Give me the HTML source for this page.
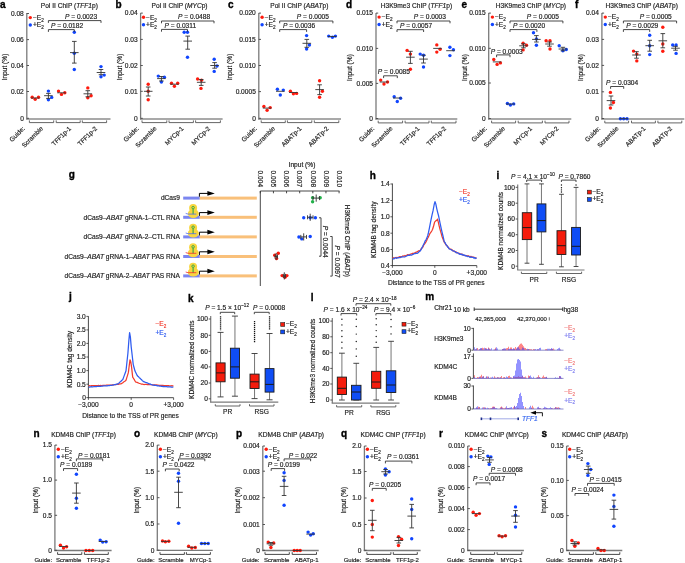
<!DOCTYPE html>
<html><head><meta charset="utf-8"><style>
html,body{margin:0;padding:0;background:#fff;}
svg{display:block;font-family:"Liberation Sans", sans-serif;will-change:transform;}
</style></head><body>
<svg width="685" height="563" viewBox="0 0 685 563">
<rect width="685" height="563" fill="#fff"/>
<line x1="26.80" y1="13.10" x2="26.80" y2="119.50" stroke="#7a7a7a" stroke-width="1.30"/>
<line x1="26.20" y1="119.00" x2="110.50" y2="119.00" stroke="#8c8c8c" stroke-width="1.50"/>
<line x1="26.80" y1="13.50" x2="29.00" y2="13.50" stroke="#444" stroke-width="0.90"/>
<text x="23.80" y="15.80" font-size="6.60" text-anchor="end" fill="#1e1e1e" stroke="#1e1e1e" stroke-width="0.18">0.08</text>
<line x1="26.80" y1="39.60" x2="29.00" y2="39.60" stroke="#444" stroke-width="0.90"/>
<text x="23.80" y="41.90" font-size="6.60" text-anchor="end" fill="#1e1e1e" stroke="#1e1e1e" stroke-width="0.18">0.06</text>
<line x1="26.80" y1="65.50" x2="29.00" y2="65.50" stroke="#444" stroke-width="0.90"/>
<text x="23.80" y="67.80" font-size="6.60" text-anchor="end" fill="#1e1e1e" stroke="#1e1e1e" stroke-width="0.18">0.04</text>
<line x1="26.80" y1="91.50" x2="29.00" y2="91.50" stroke="#444" stroke-width="0.90"/>
<text x="23.80" y="93.80" font-size="6.60" text-anchor="end" fill="#1e1e1e" stroke="#1e1e1e" stroke-width="0.18">0.02</text>
<line x1="26.80" y1="118.30" x2="29.00" y2="118.30" stroke="#444" stroke-width="0.90"/>
<text x="23.80" y="120.60" font-size="6.60" text-anchor="end" fill="#1e1e1e" stroke="#1e1e1e" stroke-width="0.18">0</text>
<text x="40.80" y="8.40" font-size="6.60" text-anchor="start" fill="#1e1e1e" stroke="#1e1e1e" stroke-width="0.18">Pol II ChIP (<tspan font-style="italic">TFF1</tspan>p)</text>
<text x="0.00" y="7.60" font-size="10.00" text-anchor="start" fill="#000" stroke="#000" stroke-width="0.35" font-weight="bold">a</text>
<circle cx="30.30" cy="17.60" r="1.70" fill="#ff1a0d"/>
<circle cx="30.30" cy="25.00" r="1.70" fill="#1045ff"/>
<text x="32.90" y="19.90" font-size="6.60" text-anchor="start" fill="#1e1e1e" stroke="#1e1e1e" stroke-width="0.18">−E<tspan dy="1.98" font-size="4.62">2</tspan><tspan dy="-1.98"></tspan></text>
<text x="32.90" y="27.30" font-size="6.60" text-anchor="start" fill="#1e1e1e" stroke="#1e1e1e" stroke-width="0.18">+E<tspan dy="1.98" font-size="4.62">2</tspan><tspan dy="-1.98"></tspan></text>
<polyline points="29.40,120.40 29.40,122.60 53.70,122.60 53.70,120.40" stroke="#555" stroke-width="0.90" fill="none"/>
<polyline points="56.20,120.40 56.20,122.60 80.20,122.60 80.20,120.40" stroke="#555" stroke-width="0.90" fill="none"/>
<polyline points="82.30,120.40 82.30,122.60 106.60,122.60 106.60,120.40" stroke="#555" stroke-width="0.90" fill="none"/>
<circle cx="32.20" cy="97.30" r="1.70" fill="#ff1a0d"/>
<circle cx="35.20" cy="99.30" r="1.70" fill="#ff1a0d"/>
<circle cx="38.50" cy="97.30" r="1.70" fill="#ff1a0d"/>
<line x1="30.90" y1="98.00" x2="39.50" y2="98.00" stroke="#333" stroke-width="0.90"/>
<circle cx="48.40" cy="91.10" r="1.70" fill="#1045ff"/>
<circle cx="48.40" cy="99.70" r="1.70" fill="#1045ff"/>
<circle cx="51.70" cy="97.40" r="1.70" fill="#1045ff"/>
<line x1="48.40" y1="93.40" x2="48.40" y2="98.40" stroke="#333" stroke-width="0.90"/>
<line x1="46.10" y1="93.40" x2="50.70" y2="93.40" stroke="#333" stroke-width="0.90"/>
<line x1="46.10" y1="98.40" x2="50.70" y2="98.40" stroke="#333" stroke-width="0.90"/>
<line x1="44.10" y1="95.70" x2="52.70" y2="95.70" stroke="#333" stroke-width="0.90"/>
<circle cx="58.50" cy="91.10" r="1.70" fill="#ff1a0d"/>
<circle cx="61.50" cy="94.40" r="1.70" fill="#ff1a0d"/>
<circle cx="64.80" cy="92.80" r="1.70" fill="#ff1a0d"/>
<line x1="57.20" y1="92.80" x2="65.80" y2="92.80" stroke="#333" stroke-width="0.90"/>
<circle cx="74.30" cy="32.20" r="1.70" fill="#1045ff"/>
<circle cx="74.30" cy="53.20" r="1.70" fill="#1045ff"/>
<circle cx="74.30" cy="69.50" r="1.70" fill="#1045ff"/>
<line x1="74.30" y1="41.40" x2="74.30" y2="63.10" stroke="#333" stroke-width="0.90"/>
<line x1="72.00" y1="41.40" x2="76.60" y2="41.40" stroke="#333" stroke-width="0.90"/>
<line x1="72.00" y1="63.10" x2="76.60" y2="63.10" stroke="#333" stroke-width="0.90"/>
<line x1="70.00" y1="52.60" x2="78.60" y2="52.60" stroke="#333" stroke-width="0.90"/>
<circle cx="87.80" cy="87.90" r="1.70" fill="#ff1a0d"/>
<circle cx="87.80" cy="97.70" r="1.70" fill="#ff1a0d"/>
<circle cx="91.10" cy="95.70" r="1.70" fill="#ff1a0d"/>
<line x1="87.80" y1="90.70" x2="87.80" y2="96.80" stroke="#333" stroke-width="0.90"/>
<line x1="85.50" y1="90.70" x2="90.10" y2="90.70" stroke="#333" stroke-width="0.90"/>
<line x1="85.50" y1="96.80" x2="90.10" y2="96.80" stroke="#333" stroke-width="0.90"/>
<line x1="83.50" y1="93.80" x2="92.10" y2="93.80" stroke="#333" stroke-width="0.90"/>
<circle cx="101.00" cy="66.60" r="1.70" fill="#1045ff"/>
<circle cx="101.00" cy="76.70" r="1.70" fill="#1045ff"/>
<circle cx="104.20" cy="75.10" r="1.70" fill="#1045ff"/>
<line x1="101.00" y1="69.50" x2="101.00" y2="74.70" stroke="#333" stroke-width="0.90"/>
<line x1="98.70" y1="69.50" x2="103.30" y2="69.50" stroke="#333" stroke-width="0.90"/>
<line x1="98.70" y1="74.70" x2="103.30" y2="74.70" stroke="#333" stroke-width="0.90"/>
<line x1="96.70" y1="72.50" x2="105.30" y2="72.50" stroke="#333" stroke-width="0.90"/>
<polyline points="48.40,22.90 48.40,20.60 101.00,20.60 101.00,22.90" stroke="#333" stroke-width="0.90" fill="none"/>
<text x="65.00" y="19.30" font-size="6.60" text-anchor="start" fill="#1e1e1e" stroke="#1e1e1e" stroke-width="0.18"><tspan font-style="italic">P</tspan> = 0.0023</text>
<polyline points="48.40,31.90 48.40,29.60 74.30,29.60 74.30,31.90" stroke="#333" stroke-width="0.90" fill="none"/>
<text x="51.00" y="27.90" font-size="6.60" text-anchor="start" fill="#1e1e1e" stroke="#1e1e1e" stroke-width="0.18"><tspan font-style="italic">P</tspan> = 0.0182</text>
<text x="25.20" y="129.00" font-size="6.35" text-anchor="end" fill="#1e1e1e" stroke="#1e1e1e" stroke-width="0.18" transform="rotate(-45 25.20 129.00)">Guide:</text>
<text x="43.50" y="129.00" font-size="6.35" text-anchor="end" fill="#1e1e1e" stroke="#1e1e1e" stroke-width="0.18" transform="rotate(-45 43.50 129.00)">Scramble</text>
<text x="71.50" y="129.00" font-size="6.35" text-anchor="end" fill="#1e1e1e" stroke="#1e1e1e" stroke-width="0.18" transform="rotate(-45 71.50 129.00)">TFF1p-1</text>
<text x="97.50" y="129.00" font-size="6.35" text-anchor="end" fill="#1e1e1e" stroke="#1e1e1e" stroke-width="0.18" transform="rotate(-45 97.50 129.00)">TFF1p-2</text>
<text x="7.30" y="67.00" font-size="6.60" text-anchor="middle" fill="#1e1e1e" stroke="#1e1e1e" stroke-width="0.18" transform="rotate(-90 7.30 67.00)">Input (%)</text>
<line x1="140.60" y1="13.10" x2="140.60" y2="119.50" stroke="#7a7a7a" stroke-width="1.30"/>
<line x1="140.00" y1="119.00" x2="222.60" y2="119.00" stroke="#8c8c8c" stroke-width="1.50"/>
<line x1="140.60" y1="13.10" x2="142.80" y2="13.10" stroke="#444" stroke-width="0.90"/>
<text x="137.60" y="15.40" font-size="6.60" text-anchor="end" fill="#1e1e1e" stroke="#1e1e1e" stroke-width="0.18">0.04</text>
<line x1="140.60" y1="39.40" x2="142.80" y2="39.40" stroke="#444" stroke-width="0.90"/>
<text x="137.60" y="41.70" font-size="6.60" text-anchor="end" fill="#1e1e1e" stroke="#1e1e1e" stroke-width="0.18">0.03</text>
<line x1="140.60" y1="65.50" x2="142.80" y2="65.50" stroke="#444" stroke-width="0.90"/>
<text x="137.60" y="67.80" font-size="6.60" text-anchor="end" fill="#1e1e1e" stroke="#1e1e1e" stroke-width="0.18">0.02</text>
<line x1="140.60" y1="91.30" x2="142.80" y2="91.30" stroke="#444" stroke-width="0.90"/>
<text x="137.60" y="93.60" font-size="6.60" text-anchor="end" fill="#1e1e1e" stroke="#1e1e1e" stroke-width="0.18">0.01</text>
<line x1="140.60" y1="118.30" x2="142.80" y2="118.30" stroke="#444" stroke-width="0.90"/>
<text x="137.60" y="120.60" font-size="6.60" text-anchor="end" fill="#1e1e1e" stroke="#1e1e1e" stroke-width="0.18">0</text>
<text x="151.60" y="8.40" font-size="6.60" text-anchor="start" fill="#1e1e1e" stroke="#1e1e1e" stroke-width="0.18">Pol II ChIP (<tspan font-style="italic">MYC</tspan>p)</text>
<text x="115.50" y="7.60" font-size="10.00" text-anchor="start" fill="#000" stroke="#000" stroke-width="0.35" font-weight="bold">b</text>
<circle cx="143.50" cy="17.30" r="1.70" fill="#ff1a0d"/>
<circle cx="143.50" cy="24.70" r="1.70" fill="#1045ff"/>
<text x="146.10" y="19.60" font-size="6.60" text-anchor="start" fill="#1e1e1e" stroke="#1e1e1e" stroke-width="0.18">−E<tspan dy="1.98" font-size="4.62">2</tspan><tspan dy="-1.98"></tspan></text>
<text x="146.10" y="27.00" font-size="6.60" text-anchor="start" fill="#1e1e1e" stroke="#1e1e1e" stroke-width="0.18">+E<tspan dy="1.98" font-size="4.62">2</tspan><tspan dy="-1.98"></tspan></text>
<polyline points="142.00,120.40 142.00,122.60 166.80,122.60 166.80,120.40" stroke="#555" stroke-width="0.90" fill="none"/>
<polyline points="169.00,120.40 169.00,122.60 193.40,122.60 193.40,120.40" stroke="#555" stroke-width="0.90" fill="none"/>
<polyline points="195.60,120.40 195.60,122.60 220.40,122.60 220.40,120.40" stroke="#555" stroke-width="0.90" fill="none"/>
<circle cx="148.20" cy="84.20" r="1.70" fill="#ff1a0d"/>
<circle cx="148.20" cy="91.30" r="1.70" fill="#ff1a0d"/>
<circle cx="148.20" cy="99.70" r="1.70" fill="#ff1a0d"/>
<line x1="148.20" y1="87.00" x2="148.20" y2="96.00" stroke="#333" stroke-width="0.90"/>
<line x1="145.90" y1="87.00" x2="150.50" y2="87.00" stroke="#333" stroke-width="0.90"/>
<line x1="145.90" y1="96.00" x2="150.50" y2="96.00" stroke="#333" stroke-width="0.90"/>
<line x1="143.90" y1="91.30" x2="152.50" y2="91.30" stroke="#333" stroke-width="0.90"/>
<circle cx="158.30" cy="76.10" r="1.70" fill="#1045ff"/>
<circle cx="161.40" cy="82.00" r="1.70" fill="#1045ff"/>
<circle cx="164.40" cy="77.30" r="1.70" fill="#1045ff"/>
<line x1="161.40" y1="76.50" x2="161.40" y2="81.00" stroke="#333" stroke-width="0.90"/>
<line x1="159.10" y1="76.50" x2="163.70" y2="76.50" stroke="#333" stroke-width="0.90"/>
<line x1="159.10" y1="81.00" x2="163.70" y2="81.00" stroke="#333" stroke-width="0.90"/>
<line x1="157.10" y1="78.60" x2="165.70" y2="78.60" stroke="#333" stroke-width="0.90"/>
<circle cx="171.50" cy="83.20" r="1.70" fill="#ff1a0d"/>
<circle cx="174.40" cy="86.20" r="1.70" fill="#ff1a0d"/>
<circle cx="177.70" cy="83.30" r="1.70" fill="#ff1a0d"/>
<line x1="170.10" y1="84.20" x2="178.70" y2="84.20" stroke="#333" stroke-width="0.90"/>
<circle cx="184.20" cy="32.20" r="1.70" fill="#1045ff"/>
<circle cx="187.50" cy="32.20" r="1.70" fill="#1045ff"/>
<circle cx="187.50" cy="57.20" r="1.70" fill="#1045ff"/>
<line x1="187.70" y1="36.10" x2="187.70" y2="49.20" stroke="#333" stroke-width="0.90"/>
<line x1="185.40" y1="36.10" x2="190.00" y2="36.10" stroke="#333" stroke-width="0.90"/>
<line x1="185.40" y1="49.20" x2="190.00" y2="49.20" stroke="#333" stroke-width="0.90"/>
<line x1="183.40" y1="41.10" x2="192.00" y2="41.10" stroke="#333" stroke-width="0.90"/>
<circle cx="197.60" cy="79.00" r="1.70" fill="#ff1a0d"/>
<circle cx="201.00" cy="88.40" r="1.70" fill="#ff1a0d"/>
<circle cx="201.50" cy="80.30" r="1.70" fill="#ff1a0d"/>
<line x1="201.20" y1="79.50" x2="201.20" y2="85.40" stroke="#333" stroke-width="0.90"/>
<line x1="198.90" y1="79.50" x2="203.50" y2="79.50" stroke="#333" stroke-width="0.90"/>
<line x1="198.90" y1="85.40" x2="203.50" y2="85.40" stroke="#333" stroke-width="0.90"/>
<line x1="196.90" y1="82.30" x2="205.50" y2="82.30" stroke="#333" stroke-width="0.90"/>
<circle cx="214.20" cy="59.20" r="1.70" fill="#1045ff"/>
<circle cx="217.00" cy="66.00" r="1.70" fill="#1045ff"/>
<circle cx="214.20" cy="71.40" r="1.70" fill="#1045ff"/>
<line x1="214.60" y1="62.60" x2="214.60" y2="68.20" stroke="#333" stroke-width="0.90"/>
<line x1="212.30" y1="62.60" x2="216.90" y2="62.60" stroke="#333" stroke-width="0.90"/>
<line x1="212.30" y1="68.20" x2="216.90" y2="68.20" stroke="#333" stroke-width="0.90"/>
<line x1="210.30" y1="65.50" x2="218.90" y2="65.50" stroke="#333" stroke-width="0.90"/>
<polyline points="161.50,23.30 161.50,21.00 214.00,21.00 214.00,23.30" stroke="#333" stroke-width="0.90" fill="none"/>
<text x="178.00" y="19.10" font-size="6.60" text-anchor="start" fill="#1e1e1e" stroke="#1e1e1e" stroke-width="0.18"><tspan font-style="italic">P</tspan> = 0.0488</text>
<polyline points="161.50,31.70 161.50,29.40 187.50,29.40 187.50,31.70" stroke="#333" stroke-width="0.90" fill="none"/>
<text x="164.50" y="27.80" font-size="6.60" text-anchor="start" fill="#1e1e1e" stroke="#1e1e1e" stroke-width="0.18"><tspan font-style="italic">P</tspan> = 0.0311</text>
<text x="139.20" y="129.00" font-size="6.35" text-anchor="end" fill="#1e1e1e" stroke="#1e1e1e" stroke-width="0.18" transform="rotate(-45 139.20 129.00)">Guide:</text>
<text x="157.00" y="129.00" font-size="6.35" text-anchor="end" fill="#1e1e1e" stroke="#1e1e1e" stroke-width="0.18" transform="rotate(-45 157.00 129.00)">Scramble</text>
<text x="184.00" y="129.00" font-size="6.35" text-anchor="end" fill="#1e1e1e" stroke="#1e1e1e" stroke-width="0.18" transform="rotate(-45 184.00 129.00)">MYCp-1</text>
<text x="210.50" y="129.00" font-size="6.35" text-anchor="end" fill="#1e1e1e" stroke="#1e1e1e" stroke-width="0.18" transform="rotate(-45 210.50 129.00)">MYCp-2</text>
<text x="121.50" y="67.00" font-size="6.60" text-anchor="middle" fill="#1e1e1e" stroke="#1e1e1e" stroke-width="0.18" transform="rotate(-90 121.50 67.00)">Input (%)</text>
<line x1="258.80" y1="13.10" x2="258.80" y2="119.50" stroke="#7a7a7a" stroke-width="1.30"/>
<line x1="258.20" y1="119.00" x2="341.00" y2="119.00" stroke="#8c8c8c" stroke-width="1.50"/>
<line x1="258.80" y1="13.10" x2="261.00" y2="13.10" stroke="#444" stroke-width="0.90"/>
<text x="255.80" y="15.40" font-size="6.60" text-anchor="end" fill="#1e1e1e" stroke="#1e1e1e" stroke-width="0.18">0.020</text>
<line x1="258.80" y1="39.40" x2="261.00" y2="39.40" stroke="#444" stroke-width="0.90"/>
<text x="255.80" y="41.70" font-size="6.60" text-anchor="end" fill="#1e1e1e" stroke="#1e1e1e" stroke-width="0.18">0.015</text>
<line x1="258.80" y1="65.50" x2="261.00" y2="65.50" stroke="#444" stroke-width="0.90"/>
<text x="255.80" y="67.80" font-size="6.60" text-anchor="end" fill="#1e1e1e" stroke="#1e1e1e" stroke-width="0.18">0.010</text>
<line x1="258.80" y1="91.60" x2="261.00" y2="91.60" stroke="#444" stroke-width="0.90"/>
<text x="255.80" y="93.90" font-size="6.60" text-anchor="end" fill="#1e1e1e" stroke="#1e1e1e" stroke-width="0.18">0.0005</text>
<line x1="258.80" y1="118.30" x2="261.00" y2="118.30" stroke="#444" stroke-width="0.90"/>
<text x="255.80" y="120.60" font-size="6.60" text-anchor="end" fill="#1e1e1e" stroke="#1e1e1e" stroke-width="0.18">0</text>
<text x="270.30" y="8.40" font-size="6.60" text-anchor="start" fill="#1e1e1e" stroke="#1e1e1e" stroke-width="0.18">Pol II ChIP (<tspan font-style="italic">ABAT</tspan>p)</text>
<text x="228.00" y="7.60" font-size="10.00" text-anchor="start" fill="#000" stroke="#000" stroke-width="0.35" font-weight="bold">c</text>
<circle cx="262.10" cy="17.30" r="1.70" fill="#ff1a0d"/>
<circle cx="262.10" cy="24.70" r="1.70" fill="#1045ff"/>
<text x="264.70" y="19.60" font-size="6.60" text-anchor="start" fill="#1e1e1e" stroke="#1e1e1e" stroke-width="0.18">−E<tspan dy="1.98" font-size="4.62">2</tspan><tspan dy="-1.98"></tspan></text>
<text x="264.70" y="27.00" font-size="6.60" text-anchor="start" fill="#1e1e1e" stroke="#1e1e1e" stroke-width="0.18">+E<tspan dy="1.98" font-size="4.62">2</tspan><tspan dy="-1.98"></tspan></text>
<polyline points="261.20,120.40 261.20,122.60 285.30,122.60 285.30,120.40" stroke="#555" stroke-width="0.90" fill="none"/>
<polyline points="287.40,120.40 287.40,122.60 311.80,122.60 311.80,120.40" stroke="#555" stroke-width="0.90" fill="none"/>
<polyline points="314.30,120.40 314.30,122.60 338.80,122.60 338.80,120.40" stroke="#555" stroke-width="0.90" fill="none"/>
<circle cx="263.90" cy="106.40" r="1.70" fill="#ff1a0d"/>
<circle cx="267.10" cy="110.30" r="1.70" fill="#ff1a0d"/>
<circle cx="270.20" cy="107.60" r="1.70" fill="#ff1a0d"/>
<line x1="262.80" y1="108.10" x2="271.40" y2="108.10" stroke="#333" stroke-width="0.90"/>
<circle cx="277.40" cy="89.20" r="1.70" fill="#1045ff"/>
<circle cx="280.30" cy="95.00" r="1.70" fill="#1045ff"/>
<circle cx="283.30" cy="90.10" r="1.70" fill="#1045ff"/>
<line x1="276.00" y1="91.30" x2="284.60" y2="91.30" stroke="#333" stroke-width="0.90"/>
<circle cx="290.40" cy="91.30" r="1.70" fill="#ff1a0d"/>
<circle cx="293.40" cy="93.80" r="1.70" fill="#ff1a0d"/>
<circle cx="296.60" cy="93.40" r="1.70" fill="#ff1a0d"/>
<line x1="289.10" y1="92.50" x2="297.70" y2="92.50" stroke="#333" stroke-width="0.90"/>
<circle cx="306.60" cy="35.60" r="1.70" fill="#1045ff"/>
<circle cx="309.40" cy="45.00" r="1.70" fill="#1045ff"/>
<circle cx="306.60" cy="49.00" r="1.70" fill="#1045ff"/>
<line x1="306.80" y1="39.40" x2="306.80" y2="47.30" stroke="#333" stroke-width="0.90"/>
<line x1="304.50" y1="39.40" x2="309.10" y2="39.40" stroke="#333" stroke-width="0.90"/>
<line x1="304.50" y1="47.30" x2="309.10" y2="47.30" stroke="#333" stroke-width="0.90"/>
<line x1="302.50" y1="43.30" x2="311.10" y2="43.30" stroke="#333" stroke-width="0.90"/>
<circle cx="319.60" cy="80.80" r="1.70" fill="#ff1a0d"/>
<circle cx="322.40" cy="91.30" r="1.70" fill="#ff1a0d"/>
<circle cx="319.60" cy="97.20" r="1.70" fill="#ff1a0d"/>
<line x1="319.60" y1="84.80" x2="319.60" y2="94.60" stroke="#333" stroke-width="0.90"/>
<line x1="317.30" y1="84.80" x2="321.90" y2="84.80" stroke="#333" stroke-width="0.90"/>
<line x1="317.30" y1="94.60" x2="321.90" y2="94.60" stroke="#333" stroke-width="0.90"/>
<line x1="315.30" y1="89.60" x2="323.90" y2="89.60" stroke="#333" stroke-width="0.90"/>
<circle cx="328.70" cy="36.10" r="1.70" fill="#1045ff"/>
<circle cx="332.40" cy="37.30" r="1.70" fill="#1045ff"/>
<circle cx="335.40" cy="36.10" r="1.70" fill="#1045ff"/>
<line x1="327.90" y1="36.50" x2="336.50" y2="36.50" stroke="#333" stroke-width="0.90"/>
<polyline points="279.70,23.30 279.70,21.00 332.90,21.00 332.90,23.30" stroke="#333" stroke-width="0.90" fill="none"/>
<text x="296.80" y="19.10" font-size="6.60" text-anchor="start" fill="#1e1e1e" stroke="#1e1e1e" stroke-width="0.18"><tspan font-style="italic">P</tspan> = 0.0005</text>
<polyline points="279.70,31.90 279.70,29.60 306.60,29.60 306.60,31.90" stroke="#333" stroke-width="0.90" fill="none"/>
<text x="283.00" y="27.80" font-size="6.60" text-anchor="start" fill="#1e1e1e" stroke="#1e1e1e" stroke-width="0.18"><tspan font-style="italic">P</tspan> = 0.0036</text>
<text x="257.20" y="129.00" font-size="6.35" text-anchor="end" fill="#1e1e1e" stroke="#1e1e1e" stroke-width="0.18" transform="rotate(-45 257.20 129.00)">Guide:</text>
<text x="275.50" y="129.00" font-size="6.35" text-anchor="end" fill="#1e1e1e" stroke="#1e1e1e" stroke-width="0.18" transform="rotate(-45 275.50 129.00)">Scramble</text>
<text x="302.00" y="129.00" font-size="6.35" text-anchor="end" fill="#1e1e1e" stroke="#1e1e1e" stroke-width="0.18" transform="rotate(-45 302.00 129.00)">ABATp-1</text>
<text x="329.00" y="129.00" font-size="6.35" text-anchor="end" fill="#1e1e1e" stroke="#1e1e1e" stroke-width="0.18" transform="rotate(-45 329.00 129.00)">ABATp-2</text>
<text x="232.00" y="67.00" font-size="6.60" text-anchor="middle" fill="#1e1e1e" stroke="#1e1e1e" stroke-width="0.18" transform="rotate(-90 232.00 67.00)">Input (%)</text>
<line x1="376.00" y1="13.10" x2="376.00" y2="119.50" stroke="#7a7a7a" stroke-width="1.30"/>
<line x1="375.40" y1="119.00" x2="457.30" y2="119.00" stroke="#8c8c8c" stroke-width="1.50"/>
<line x1="376.00" y1="13.10" x2="378.20" y2="13.10" stroke="#444" stroke-width="0.90"/>
<text x="373.00" y="15.40" font-size="6.60" text-anchor="end" fill="#1e1e1e" stroke="#1e1e1e" stroke-width="0.18">0.015</text>
<line x1="376.00" y1="48.40" x2="378.20" y2="48.40" stroke="#444" stroke-width="0.90"/>
<text x="373.00" y="50.70" font-size="6.60" text-anchor="end" fill="#1e1e1e" stroke="#1e1e1e" stroke-width="0.18">0.010</text>
<line x1="376.00" y1="83.40" x2="378.20" y2="83.40" stroke="#444" stroke-width="0.90"/>
<text x="373.00" y="85.70" font-size="6.60" text-anchor="end" fill="#1e1e1e" stroke="#1e1e1e" stroke-width="0.18">0.005</text>
<line x1="376.00" y1="118.50" x2="378.20" y2="118.50" stroke="#444" stroke-width="0.90"/>
<text x="373.00" y="120.80" font-size="6.60" text-anchor="end" fill="#1e1e1e" stroke="#1e1e1e" stroke-width="0.18">0</text>
<text x="380.80" y="8.40" font-size="6.60" text-anchor="start" fill="#1e1e1e" stroke="#1e1e1e" stroke-width="0.18">H3K9me3 ChIP (<tspan font-style="italic">TFF1</tspan>p)</text>
<text x="346.00" y="7.60" font-size="10.00" text-anchor="start" fill="#000" stroke="#000" stroke-width="0.35" font-weight="bold">d</text>
<circle cx="379.10" cy="17.10" r="1.70" fill="#ff1a0d"/>
<circle cx="379.10" cy="24.50" r="1.70" fill="#1045ff"/>
<text x="381.70" y="19.40" font-size="6.60" text-anchor="start" fill="#1e1e1e" stroke="#1e1e1e" stroke-width="0.18">−E<tspan dy="1.98" font-size="4.62">2</tspan><tspan dy="-1.98"></tspan></text>
<text x="381.70" y="26.80" font-size="6.60" text-anchor="start" fill="#1e1e1e" stroke="#1e1e1e" stroke-width="0.18">+E<tspan dy="1.98" font-size="4.62">2</tspan><tspan dy="-1.98"></tspan></text>
<polyline points="378.20,120.70 378.20,122.90 402.60,122.90 402.60,120.70" stroke="#555" stroke-width="0.90" fill="none"/>
<polyline points="405.10,120.70 405.10,122.90 429.00,122.90 429.00,120.70" stroke="#555" stroke-width="0.90" fill="none"/>
<polyline points="431.30,120.70 431.30,122.90 456.00,122.90 456.00,120.70" stroke="#555" stroke-width="0.90" fill="none"/>
<circle cx="380.70" cy="80.10" r="1.70" fill="#ff1a0d"/>
<circle cx="384.00" cy="84.00" r="1.70" fill="#ff1a0d"/>
<circle cx="387.50" cy="82.00" r="1.70" fill="#ff1a0d"/>
<line x1="379.70" y1="82.00" x2="388.30" y2="82.00" stroke="#333" stroke-width="0.90"/>
<circle cx="394.20" cy="96.70" r="1.70" fill="#1045ff"/>
<circle cx="397.30" cy="101.50" r="1.70" fill="#1045ff"/>
<circle cx="400.60" cy="98.20" r="1.70" fill="#1045ff"/>
<line x1="393.00" y1="98.00" x2="401.60" y2="98.00" stroke="#333" stroke-width="0.90"/>
<circle cx="407.10" cy="50.40" r="1.70" fill="#ff1a0d"/>
<circle cx="410.40" cy="54.10" r="1.70" fill="#ff1a0d"/>
<circle cx="410.40" cy="69.30" r="1.70" fill="#ff1a0d"/>
<line x1="410.40" y1="51.30" x2="410.40" y2="63.40" stroke="#333" stroke-width="0.90"/>
<line x1="408.10" y1="51.30" x2="412.70" y2="51.30" stroke="#333" stroke-width="0.90"/>
<line x1="408.10" y1="63.40" x2="412.70" y2="63.40" stroke="#333" stroke-width="0.90"/>
<line x1="406.10" y1="57.20" x2="414.70" y2="57.20" stroke="#333" stroke-width="0.90"/>
<circle cx="420.20" cy="54.10" r="1.70" fill="#1045ff"/>
<circle cx="423.50" cy="55.20" r="1.70" fill="#1045ff"/>
<circle cx="423.50" cy="67.00" r="1.70" fill="#1045ff"/>
<line x1="423.50" y1="55.20" x2="423.50" y2="63.00" stroke="#333" stroke-width="0.90"/>
<line x1="421.20" y1="55.20" x2="425.80" y2="55.20" stroke="#333" stroke-width="0.90"/>
<line x1="421.20" y1="63.00" x2="425.80" y2="63.00" stroke="#333" stroke-width="0.90"/>
<line x1="419.20" y1="59.10" x2="427.80" y2="59.10" stroke="#333" stroke-width="0.90"/>
<circle cx="436.80" cy="44.90" r="1.70" fill="#ff1a0d"/>
<circle cx="440.10" cy="49.20" r="1.70" fill="#ff1a0d"/>
<circle cx="436.80" cy="52.10" r="1.70" fill="#ff1a0d"/>
<line x1="433.20" y1="48.40" x2="441.80" y2="48.40" stroke="#333" stroke-width="0.90"/>
<circle cx="449.90" cy="47.20" r="1.70" fill="#1045ff"/>
<circle cx="453.40" cy="49.80" r="1.70" fill="#1045ff"/>
<circle cx="449.90" cy="55.60" r="1.70" fill="#1045ff"/>
<line x1="446.20" y1="50.70" x2="454.80" y2="50.70" stroke="#333" stroke-width="0.90"/>
<polyline points="397.00,23.30 397.00,21.00 450.00,21.00 450.00,23.30" stroke="#333" stroke-width="0.90" fill="none"/>
<text x="413.80" y="19.10" font-size="6.60" text-anchor="start" fill="#1e1e1e" stroke="#1e1e1e" stroke-width="0.18"><tspan font-style="italic">P</tspan> = 0.0003</text>
<polyline points="397.00,32.00 397.00,29.70 423.60,29.70 423.60,32.00" stroke="#333" stroke-width="0.90" fill="none"/>
<text x="400.00" y="27.80" font-size="6.60" text-anchor="start" fill="#1e1e1e" stroke="#1e1e1e" stroke-width="0.18"><tspan font-style="italic">P</tspan> = 0.0057</text>
<polyline points="383.60,78.10 383.60,75.80 397.30,75.80 397.30,78.10" stroke="#333" stroke-width="0.90" fill="none"/>
<text x="377.80" y="74.00" font-size="6.60" text-anchor="start" fill="#1e1e1e" stroke="#1e1e1e" stroke-width="0.18"><tspan font-style="italic">P</tspan> = 0.0085</text>
<text x="374.70" y="129.00" font-size="6.35" text-anchor="end" fill="#1e1e1e" stroke="#1e1e1e" stroke-width="0.18" transform="rotate(-45 374.70 129.00)">Guide:</text>
<text x="393.00" y="129.00" font-size="6.35" text-anchor="end" fill="#1e1e1e" stroke="#1e1e1e" stroke-width="0.18" transform="rotate(-45 393.00 129.00)">Scramble</text>
<text x="420.00" y="129.00" font-size="6.35" text-anchor="end" fill="#1e1e1e" stroke="#1e1e1e" stroke-width="0.18" transform="rotate(-45 420.00 129.00)">TFF1p-1</text>
<text x="446.50" y="129.00" font-size="6.35" text-anchor="end" fill="#1e1e1e" stroke="#1e1e1e" stroke-width="0.18" transform="rotate(-45 446.50 129.00)">TFF1p-2</text>
<text x="351.50" y="67.50" font-size="6.60" text-anchor="middle" fill="#1e1e1e" stroke="#1e1e1e" stroke-width="0.18" transform="rotate(-90 351.50 67.50)">Input (%)</text>
<line x1="488.70" y1="13.10" x2="488.70" y2="119.50" stroke="#7a7a7a" stroke-width="1.30"/>
<line x1="488.10" y1="119.00" x2="571.30" y2="119.00" stroke="#8c8c8c" stroke-width="1.50"/>
<line x1="488.70" y1="13.10" x2="490.90" y2="13.10" stroke="#444" stroke-width="0.90"/>
<text x="485.70" y="15.40" font-size="6.60" text-anchor="end" fill="#1e1e1e" stroke="#1e1e1e" stroke-width="0.18">0.015</text>
<line x1="488.70" y1="48.30" x2="490.90" y2="48.30" stroke="#444" stroke-width="0.90"/>
<text x="485.70" y="50.60" font-size="6.60" text-anchor="end" fill="#1e1e1e" stroke="#1e1e1e" stroke-width="0.18">0.010</text>
<line x1="488.70" y1="83.00" x2="490.90" y2="83.00" stroke="#444" stroke-width="0.90"/>
<text x="485.70" y="85.30" font-size="6.60" text-anchor="end" fill="#1e1e1e" stroke="#1e1e1e" stroke-width="0.18">0.005</text>
<line x1="488.70" y1="118.50" x2="490.90" y2="118.50" stroke="#444" stroke-width="0.90"/>
<text x="485.70" y="120.80" font-size="6.60" text-anchor="end" fill="#1e1e1e" stroke="#1e1e1e" stroke-width="0.18">0</text>
<text x="495.80" y="8.40" font-size="6.60" text-anchor="start" fill="#1e1e1e" stroke="#1e1e1e" stroke-width="0.18">H3K9me3 ChIP (<tspan font-style="italic">MYC</tspan>p)</text>
<text x="461.50" y="7.60" font-size="10.00" text-anchor="start" fill="#000" stroke="#000" stroke-width="0.35" font-weight="bold">e</text>
<circle cx="492.40" cy="17.10" r="1.70" fill="#ff1a0d"/>
<circle cx="492.40" cy="24.50" r="1.70" fill="#1045ff"/>
<text x="495.00" y="19.40" font-size="6.60" text-anchor="start" fill="#1e1e1e" stroke="#1e1e1e" stroke-width="0.18">−E<tspan dy="1.98" font-size="4.62">2</tspan><tspan dy="-1.98"></tspan></text>
<text x="495.00" y="26.80" font-size="6.60" text-anchor="start" fill="#1e1e1e" stroke="#1e1e1e" stroke-width="0.18">+E<tspan dy="1.98" font-size="4.62">2</tspan><tspan dy="-1.98"></tspan></text>
<polyline points="491.60,120.70 491.60,122.90 515.60,122.90 515.60,120.70" stroke="#555" stroke-width="0.90" fill="none"/>
<polyline points="518.20,120.70 518.20,122.90 542.40,122.90 542.40,120.70" stroke="#555" stroke-width="0.90" fill="none"/>
<polyline points="545.00,120.70 545.00,122.90 569.00,122.90 569.00,120.70" stroke="#555" stroke-width="0.90" fill="none"/>
<circle cx="493.80" cy="59.50" r="1.70" fill="#ff1a0d"/>
<circle cx="497.10" cy="64.40" r="1.70" fill="#ff1a0d"/>
<circle cx="500.40" cy="62.90" r="1.70" fill="#ff1a0d"/>
<line x1="492.80" y1="61.90" x2="501.40" y2="61.90" stroke="#333" stroke-width="0.90"/>
<circle cx="507.40" cy="103.50" r="1.70" fill="#1045ff"/>
<circle cx="510.40" cy="105.00" r="1.70" fill="#1045ff"/>
<circle cx="513.70" cy="103.90" r="1.70" fill="#1045ff"/>
<line x1="506.10" y1="104.00" x2="514.70" y2="104.00" stroke="#333" stroke-width="0.90"/>
<circle cx="523.10" cy="43.30" r="1.70" fill="#ff1a0d"/>
<circle cx="526.50" cy="45.30" r="1.70" fill="#ff1a0d"/>
<circle cx="523.10" cy="49.90" r="1.70" fill="#ff1a0d"/>
<line x1="523.50" y1="43.80" x2="523.50" y2="47.80" stroke="#333" stroke-width="0.90"/>
<line x1="521.20" y1="43.80" x2="525.80" y2="43.80" stroke="#333" stroke-width="0.90"/>
<line x1="521.20" y1="47.80" x2="525.80" y2="47.80" stroke="#333" stroke-width="0.90"/>
<line x1="519.20" y1="45.80" x2="527.80" y2="45.80" stroke="#333" stroke-width="0.90"/>
<circle cx="533.50" cy="32.70" r="1.70" fill="#1045ff"/>
<circle cx="536.40" cy="38.90" r="1.70" fill="#1045ff"/>
<circle cx="536.40" cy="45.30" r="1.70" fill="#1045ff"/>
<line x1="536.40" y1="35.60" x2="536.40" y2="42.00" stroke="#333" stroke-width="0.90"/>
<line x1="534.10" y1="35.60" x2="538.70" y2="35.60" stroke="#333" stroke-width="0.90"/>
<line x1="534.10" y1="42.00" x2="538.70" y2="42.00" stroke="#333" stroke-width="0.90"/>
<line x1="532.10" y1="39.40" x2="540.70" y2="39.40" stroke="#333" stroke-width="0.90"/>
<circle cx="546.10" cy="40.80" r="1.70" fill="#ff1a0d"/>
<circle cx="550.00" cy="40.80" r="1.70" fill="#ff1a0d"/>
<circle cx="550.00" cy="49.00" r="1.70" fill="#ff1a0d"/>
<line x1="549.50" y1="42.00" x2="549.50" y2="46.20" stroke="#333" stroke-width="0.90"/>
<line x1="547.20" y1="42.00" x2="551.80" y2="42.00" stroke="#333" stroke-width="0.90"/>
<line x1="547.20" y1="46.20" x2="551.80" y2="46.20" stroke="#333" stroke-width="0.90"/>
<line x1="545.20" y1="44.00" x2="553.80" y2="44.00" stroke="#333" stroke-width="0.90"/>
<circle cx="559.20" cy="45.70" r="1.70" fill="#1045ff"/>
<circle cx="562.90" cy="50.70" r="1.70" fill="#1045ff"/>
<circle cx="566.30" cy="49.50" r="1.70" fill="#1045ff"/>
<line x1="562.90" y1="47.30" x2="562.90" y2="50.80" stroke="#333" stroke-width="0.90"/>
<line x1="560.60" y1="47.30" x2="565.20" y2="47.30" stroke="#333" stroke-width="0.90"/>
<line x1="560.60" y1="50.80" x2="565.20" y2="50.80" stroke="#333" stroke-width="0.90"/>
<line x1="558.60" y1="49.00" x2="567.20" y2="49.00" stroke="#333" stroke-width="0.90"/>
<polyline points="510.00,23.30 510.00,21.00 562.90,21.00 562.90,23.30" stroke="#333" stroke-width="0.90" fill="none"/>
<text x="526.80" y="19.10" font-size="6.60" text-anchor="start" fill="#1e1e1e" stroke="#1e1e1e" stroke-width="0.18"><tspan font-style="italic">P</tspan> = 0.0005</text>
<polyline points="510.00,31.90 510.00,29.60 536.90,29.60 536.90,31.90" stroke="#333" stroke-width="0.90" fill="none"/>
<text x="513.00" y="27.80" font-size="6.60" text-anchor="start" fill="#1e1e1e" stroke="#1e1e1e" stroke-width="0.18"><tspan font-style="italic">P</tspan> = 0.0020</text>
<polyline points="496.60,57.20 496.60,54.90 510.00,54.90 510.00,57.20" stroke="#333" stroke-width="0.90" fill="none"/>
<text x="490.70" y="53.50" font-size="6.60" text-anchor="start" fill="#1e1e1e" stroke="#1e1e1e" stroke-width="0.18"><tspan font-style="italic">P</tspan> = 0.0003</text>
<text x="487.20" y="129.00" font-size="6.35" text-anchor="end" fill="#1e1e1e" stroke="#1e1e1e" stroke-width="0.18" transform="rotate(-45 487.20 129.00)">Guide:</text>
<text x="505.50" y="129.00" font-size="6.35" text-anchor="end" fill="#1e1e1e" stroke="#1e1e1e" stroke-width="0.18" transform="rotate(-45 505.50 129.00)">Scramble</text>
<text x="532.50" y="129.00" font-size="6.35" text-anchor="end" fill="#1e1e1e" stroke="#1e1e1e" stroke-width="0.18" transform="rotate(-45 532.50 129.00)">MYCp-1</text>
<text x="559.00" y="129.00" font-size="6.35" text-anchor="end" fill="#1e1e1e" stroke="#1e1e1e" stroke-width="0.18" transform="rotate(-45 559.00 129.00)">MYCp-2</text>
<text x="466.50" y="67.50" font-size="6.60" text-anchor="middle" fill="#1e1e1e" stroke="#1e1e1e" stroke-width="0.18" transform="rotate(-90 466.50 67.50)">Input (%)</text>
<line x1="601.90" y1="13.10" x2="601.90" y2="119.50" stroke="#7a7a7a" stroke-width="1.30"/>
<line x1="601.30" y1="119.00" x2="684.30" y2="119.00" stroke="#8c8c8c" stroke-width="1.50"/>
<line x1="601.90" y1="13.10" x2="604.10" y2="13.10" stroke="#444" stroke-width="0.90"/>
<text x="598.90" y="15.40" font-size="6.60" text-anchor="end" fill="#1e1e1e" stroke="#1e1e1e" stroke-width="0.18">0.04</text>
<line x1="601.90" y1="39.40" x2="604.10" y2="39.40" stroke="#444" stroke-width="0.90"/>
<text x="598.90" y="41.70" font-size="6.60" text-anchor="end" fill="#1e1e1e" stroke="#1e1e1e" stroke-width="0.18">0.03</text>
<line x1="601.90" y1="65.40" x2="604.10" y2="65.40" stroke="#444" stroke-width="0.90"/>
<text x="598.90" y="67.70" font-size="6.60" text-anchor="end" fill="#1e1e1e" stroke="#1e1e1e" stroke-width="0.18">0.02</text>
<line x1="601.90" y1="91.80" x2="604.10" y2="91.80" stroke="#444" stroke-width="0.90"/>
<text x="598.90" y="94.10" font-size="6.60" text-anchor="end" fill="#1e1e1e" stroke="#1e1e1e" stroke-width="0.18">0.01</text>
<line x1="601.90" y1="118.50" x2="604.10" y2="118.50" stroke="#444" stroke-width="0.90"/>
<text x="598.90" y="120.80" font-size="6.60" text-anchor="end" fill="#1e1e1e" stroke="#1e1e1e" stroke-width="0.18">0</text>
<text x="605.60" y="8.40" font-size="6.60" text-anchor="start" fill="#1e1e1e" stroke="#1e1e1e" stroke-width="0.18">H3K9me3 ChIP (<tspan font-style="italic">ABAT</tspan>p)</text>
<text x="575.00" y="7.60" font-size="10.00" text-anchor="start" fill="#000" stroke="#000" stroke-width="0.35" font-weight="bold">f</text>
<circle cx="605.30" cy="17.10" r="1.70" fill="#ff1a0d"/>
<circle cx="605.30" cy="24.50" r="1.70" fill="#1045ff"/>
<text x="607.90" y="19.40" font-size="6.60" text-anchor="start" fill="#1e1e1e" stroke="#1e1e1e" stroke-width="0.18">−E<tspan dy="1.98" font-size="4.62">2</tspan><tspan dy="-1.98"></tspan></text>
<text x="607.90" y="26.80" font-size="6.60" text-anchor="start" fill="#1e1e1e" stroke="#1e1e1e" stroke-width="0.18">+E<tspan dy="1.98" font-size="4.62">2</tspan><tspan dy="-1.98"></tspan></text>
<polyline points="604.80,120.70 604.80,122.90 628.60,122.90 628.60,120.70" stroke="#555" stroke-width="0.90" fill="none"/>
<polyline points="631.50,120.70 631.50,122.90 655.40,122.90 655.40,120.70" stroke="#555" stroke-width="0.90" fill="none"/>
<polyline points="657.90,120.70 657.90,122.90 681.80,122.90 681.80,120.70" stroke="#555" stroke-width="0.90" fill="none"/>
<circle cx="610.40" cy="92.40" r="1.70" fill="#ff1a0d"/>
<circle cx="613.40" cy="102.50" r="1.70" fill="#ff1a0d"/>
<circle cx="610.40" cy="108.00" r="1.70" fill="#ff1a0d"/>
<line x1="611.00" y1="96.00" x2="611.00" y2="105.00" stroke="#333" stroke-width="0.90"/>
<line x1="608.70" y1="96.00" x2="613.30" y2="96.00" stroke="#333" stroke-width="0.90"/>
<line x1="608.70" y1="105.00" x2="613.30" y2="105.00" stroke="#333" stroke-width="0.90"/>
<line x1="606.70" y1="100.60" x2="615.30" y2="100.60" stroke="#333" stroke-width="0.90"/>
<circle cx="620.40" cy="118.70" r="1.70" fill="#1045ff"/>
<circle cx="623.70" cy="118.70" r="1.70" fill="#1045ff"/>
<circle cx="627.00" cy="118.70" r="1.70" fill="#1045ff"/>
<line x1="619.40" y1="118.70" x2="628.00" y2="118.70" stroke="#333" stroke-width="0.90"/>
<circle cx="633.50" cy="51.10" r="1.70" fill="#ff1a0d"/>
<circle cx="636.80" cy="54.10" r="1.70" fill="#ff1a0d"/>
<circle cx="636.80" cy="60.90" r="1.70" fill="#ff1a0d"/>
<line x1="636.50" y1="51.70" x2="636.50" y2="58.20" stroke="#333" stroke-width="0.90"/>
<line x1="634.20" y1="51.70" x2="638.80" y2="51.70" stroke="#333" stroke-width="0.90"/>
<line x1="634.20" y1="58.20" x2="638.80" y2="58.20" stroke="#333" stroke-width="0.90"/>
<line x1="632.20" y1="55.00" x2="640.80" y2="55.00" stroke="#333" stroke-width="0.90"/>
<circle cx="649.70" cy="35.30" r="1.70" fill="#1045ff"/>
<circle cx="649.70" cy="45.70" r="1.70" fill="#1045ff"/>
<circle cx="649.70" cy="54.60" r="1.70" fill="#1045ff"/>
<line x1="649.70" y1="40.30" x2="649.70" y2="51.20" stroke="#333" stroke-width="0.90"/>
<line x1="647.40" y1="40.30" x2="652.00" y2="40.30" stroke="#333" stroke-width="0.90"/>
<line x1="647.40" y1="51.20" x2="652.00" y2="51.20" stroke="#333" stroke-width="0.90"/>
<line x1="645.40" y1="45.70" x2="654.00" y2="45.70" stroke="#333" stroke-width="0.90"/>
<circle cx="662.80" cy="27.20" r="1.70" fill="#ff1a0d"/>
<circle cx="662.80" cy="44.00" r="1.70" fill="#ff1a0d"/>
<circle cx="662.80" cy="51.20" r="1.70" fill="#ff1a0d"/>
<line x1="662.80" y1="33.60" x2="662.80" y2="47.80" stroke="#333" stroke-width="0.90"/>
<line x1="660.50" y1="33.60" x2="665.10" y2="33.60" stroke="#333" stroke-width="0.90"/>
<line x1="660.50" y1="47.80" x2="665.10" y2="47.80" stroke="#333" stroke-width="0.90"/>
<line x1="658.50" y1="40.80" x2="667.10" y2="40.80" stroke="#333" stroke-width="0.90"/>
<circle cx="672.70" cy="45.00" r="1.70" fill="#1045ff"/>
<circle cx="676.10" cy="45.00" r="1.70" fill="#1045ff"/>
<circle cx="676.10" cy="53.40" r="1.70" fill="#1045ff"/>
<line x1="675.50" y1="46.30" x2="675.50" y2="50.20" stroke="#333" stroke-width="0.90"/>
<line x1="673.20" y1="46.30" x2="677.80" y2="46.30" stroke="#333" stroke-width="0.90"/>
<line x1="673.20" y1="50.20" x2="677.80" y2="50.20" stroke="#333" stroke-width="0.90"/>
<line x1="671.20" y1="48.20" x2="679.80" y2="48.20" stroke="#333" stroke-width="0.90"/>
<polyline points="623.40,23.30 623.40,21.00 676.60,21.00 676.60,23.30" stroke="#333" stroke-width="0.90" fill="none"/>
<text x="639.70" y="19.10" font-size="6.60" text-anchor="start" fill="#1e1e1e" stroke="#1e1e1e" stroke-width="0.18"><tspan font-style="italic">P</tspan> = 0.0005</text>
<polyline points="623.40,31.90 623.40,29.60 649.70,29.60 649.70,31.90" stroke="#333" stroke-width="0.90" fill="none"/>
<text x="626.20" y="27.80" font-size="6.60" text-anchor="start" fill="#1e1e1e" stroke="#1e1e1e" stroke-width="0.18"><tspan font-style="italic">P</tspan> = 0.0029</text>
<polyline points="610.60,88.80 610.60,86.50 623.70,86.50 623.70,88.80" stroke="#333" stroke-width="0.90" fill="none"/>
<text x="606.10" y="84.70" font-size="6.60" text-anchor="start" fill="#1e1e1e" stroke="#1e1e1e" stroke-width="0.18"><tspan font-style="italic">P</tspan> = 0.0304</text>
<text x="600.70" y="129.00" font-size="6.35" text-anchor="end" fill="#1e1e1e" stroke="#1e1e1e" stroke-width="0.18" transform="rotate(-45 600.70 129.00)">Guide:</text>
<text x="619.00" y="129.00" font-size="6.35" text-anchor="end" fill="#1e1e1e" stroke="#1e1e1e" stroke-width="0.18" transform="rotate(-45 619.00 129.00)">Scramble</text>
<text x="646.00" y="129.00" font-size="6.35" text-anchor="end" fill="#1e1e1e" stroke="#1e1e1e" stroke-width="0.18" transform="rotate(-45 646.00 129.00)">ABATp-1</text>
<text x="672.50" y="129.00" font-size="6.35" text-anchor="end" fill="#1e1e1e" stroke="#1e1e1e" stroke-width="0.18" transform="rotate(-45 672.50 129.00)">ABATp-2</text>
<text x="583.40" y="67.50" font-size="6.60" text-anchor="middle" fill="#1e1e1e" stroke="#1e1e1e" stroke-width="0.18" transform="rotate(-90 583.40 67.50)">Input (%)</text>
<line x1="54.90" y1="445.00" x2="54.90" y2="551.00" stroke="#7a7a7a" stroke-width="1.30"/>
<line x1="54.30" y1="550.50" x2="111.60" y2="550.50" stroke="#7a7a7a" stroke-width="1.30"/>
<line x1="54.90" y1="445.10" x2="57.10" y2="445.10" stroke="#444" stroke-width="0.90"/>
<text x="51.90" y="447.40" font-size="6.60" text-anchor="end" fill="#1e1e1e" stroke="#1e1e1e" stroke-width="0.18">1.5</text>
<line x1="54.90" y1="480.10" x2="57.10" y2="480.10" stroke="#444" stroke-width="0.90"/>
<text x="51.90" y="482.40" font-size="6.60" text-anchor="end" fill="#1e1e1e" stroke="#1e1e1e" stroke-width="0.18">1.0</text>
<line x1="54.90" y1="515.30" x2="57.10" y2="515.30" stroke="#444" stroke-width="0.90"/>
<text x="51.90" y="517.60" font-size="6.60" text-anchor="end" fill="#1e1e1e" stroke="#1e1e1e" stroke-width="0.18">0.5</text>
<line x1="54.90" y1="550.30" x2="57.10" y2="550.30" stroke="#444" stroke-width="0.90"/>
<text x="51.90" y="552.60" font-size="6.60" text-anchor="end" fill="#1e1e1e" stroke="#1e1e1e" stroke-width="0.18">0</text>
<text x="51.20" y="437.20" font-size="6.60" text-anchor="start" fill="#1e1e1e" stroke="#1e1e1e" stroke-width="0.18">KDM4B ChIP (<tspan font-style="italic">TFF1</tspan>p)</text>
<text x="33.50" y="436.60" font-size="10.00" text-anchor="start" fill="#000" stroke="#000" stroke-width="0.35" font-weight="bold">n</text>
<circle cx="58.30" cy="449.30" r="1.70" fill="#ff1a0d"/>
<circle cx="58.30" cy="456.70" r="1.70" fill="#1045ff"/>
<text x="60.90" y="451.60" font-size="6.60" text-anchor="start" fill="#1e1e1e" stroke="#1e1e1e" stroke-width="0.18">−E<tspan dy="1.98" font-size="4.62">2</tspan><tspan dy="-1.98"></tspan></text>
<text x="60.90" y="459.00" font-size="6.60" text-anchor="start" fill="#1e1e1e" stroke="#1e1e1e" stroke-width="0.18">+E<tspan dy="1.98" font-size="4.62">2</tspan><tspan dy="-1.98"></tspan></text>
<polyline points="57.60,552.20 57.60,554.40 81.80,554.40 81.80,552.20" stroke="#333" stroke-width="0.90" fill="none"/>
<polyline points="84.40,552.20 84.40,554.40 108.30,554.40 108.30,552.20" stroke="#333" stroke-width="0.90" fill="none"/>
<circle cx="60.40" cy="545.20" r="1.70" fill="#ff1a0d"/>
<circle cx="63.50" cy="548.00" r="1.70" fill="#ff1a0d"/>
<circle cx="66.60" cy="546.80" r="1.70" fill="#ff1a0d"/>
<line x1="59.20" y1="546.50" x2="67.80" y2="546.50" stroke="#333" stroke-width="0.90"/>
<circle cx="76.40" cy="474.20" r="1.70" fill="#1045ff"/>
<circle cx="76.40" cy="498.20" r="1.70" fill="#1045ff"/>
<circle cx="76.40" cy="508.20" r="1.70" fill="#1045ff"/>
<line x1="76.40" y1="483.00" x2="76.40" y2="503.20" stroke="#333" stroke-width="0.90"/>
<line x1="74.10" y1="483.00" x2="78.70" y2="483.00" stroke="#333" stroke-width="0.90"/>
<line x1="74.10" y1="503.20" x2="78.70" y2="503.20" stroke="#333" stroke-width="0.90"/>
<line x1="72.10" y1="493.10" x2="80.70" y2="493.10" stroke="#333" stroke-width="0.90"/>
<circle cx="86.00" cy="550.50" r="1.70" fill="#ff1a0d"/>
<circle cx="89.30" cy="550.50" r="1.70" fill="#ff1a0d"/>
<circle cx="92.70" cy="550.50" r="1.70" fill="#ff1a0d"/>
<line x1="85.00" y1="550.50" x2="93.60" y2="550.50" stroke="#333" stroke-width="0.90"/>
<circle cx="100.20" cy="540.10" r="1.70" fill="#1045ff"/>
<circle cx="102.70" cy="542.10" r="1.70" fill="#1045ff"/>
<circle cx="106.10" cy="541.80" r="1.70" fill="#1045ff"/>
<line x1="98.70" y1="541.50" x2="107.30" y2="541.50" stroke="#333" stroke-width="0.90"/>
<polyline points="76.40,461.20 76.40,458.90 102.70,458.90 102.70,461.20" stroke="#333" stroke-width="0.90" fill="none"/>
<text x="78.00" y="457.50" font-size="6.60" text-anchor="start" fill="#1e1e1e" stroke="#1e1e1e" stroke-width="0.18"><tspan font-style="italic">P</tspan> = 0.0181</text>
<polyline points="63.50,470.90 63.50,468.60 77.60,468.60 77.60,470.90" stroke="#333" stroke-width="0.90" fill="none"/>
<text x="60.10" y="466.70" font-size="6.60" text-anchor="start" fill="#1e1e1e" stroke="#1e1e1e" stroke-width="0.18"><tspan font-style="italic">P</tspan> = 0.0189</text>
<text x="34.40" y="561.60" font-size="6.00" text-anchor="start" fill="#1e1e1e" stroke="#1e1e1e" stroke-width="0.18">Guide:</text>
<text x="55.90" y="561.60" font-size="6.00" text-anchor="start" fill="#1e1e1e" stroke="#1e1e1e" stroke-width="0.18">Scramble</text>
<text x="86.80" y="561.60" font-size="6.00" text-anchor="start" fill="#1e1e1e" stroke="#1e1e1e" stroke-width="0.18">TFF1p-2</text>
<text x="38.30" y="500.20" font-size="6.60" text-anchor="middle" fill="#1e1e1e" stroke="#1e1e1e" stroke-width="0.18" transform="rotate(-90 38.30 500.20)">Input (%)</text>
<line x1="157.30" y1="445.00" x2="157.30" y2="550.80" stroke="#7a7a7a" stroke-width="1.30"/>
<line x1="156.70" y1="550.30" x2="212.70" y2="550.30" stroke="#7a7a7a" stroke-width="1.30"/>
<line x1="157.30" y1="445.10" x2="159.50" y2="445.10" stroke="#444" stroke-width="0.90"/>
<text x="154.30" y="447.40" font-size="6.60" text-anchor="end" fill="#1e1e1e" stroke="#1e1e1e" stroke-width="0.18">2.0</text>
<line x1="157.30" y1="471.20" x2="159.50" y2="471.20" stroke="#444" stroke-width="0.90"/>
<text x="154.30" y="473.50" font-size="6.60" text-anchor="end" fill="#1e1e1e" stroke="#1e1e1e" stroke-width="0.18">1.5</text>
<line x1="157.30" y1="497.70" x2="159.50" y2="497.70" stroke="#444" stroke-width="0.90"/>
<text x="154.30" y="500.00" font-size="6.60" text-anchor="end" fill="#1e1e1e" stroke="#1e1e1e" stroke-width="0.18">1.0</text>
<line x1="157.30" y1="524.00" x2="159.50" y2="524.00" stroke="#444" stroke-width="0.90"/>
<text x="154.30" y="526.30" font-size="6.60" text-anchor="end" fill="#1e1e1e" stroke="#1e1e1e" stroke-width="0.18">0.5</text>
<line x1="157.30" y1="550.20" x2="159.50" y2="550.20" stroke="#444" stroke-width="0.90"/>
<text x="154.30" y="552.50" font-size="6.60" text-anchor="end" fill="#1e1e1e" stroke="#1e1e1e" stroke-width="0.18">0</text>
<text x="154.00" y="437.20" font-size="6.60" text-anchor="start" fill="#1e1e1e" stroke="#1e1e1e" stroke-width="0.18">KDM4B ChIP (<tspan font-style="italic">MYC</tspan>p)</text>
<text x="134.00" y="436.60" font-size="10.00" text-anchor="start" fill="#000" stroke="#000" stroke-width="0.35" font-weight="bold">o</text>
<circle cx="160.40" cy="449.30" r="1.70" fill="#ff1a0d"/>
<circle cx="160.40" cy="456.70" r="1.70" fill="#1045ff"/>
<text x="163.00" y="451.60" font-size="6.60" text-anchor="start" fill="#1e1e1e" stroke="#1e1e1e" stroke-width="0.18">−E<tspan dy="1.98" font-size="4.62">2</tspan><tspan dy="-1.98"></tspan></text>
<text x="163.00" y="459.00" font-size="6.60" text-anchor="start" fill="#1e1e1e" stroke="#1e1e1e" stroke-width="0.18">+E<tspan dy="1.98" font-size="4.62">2</tspan><tspan dy="-1.98"></tspan></text>
<polyline points="160.00,552.20 160.00,554.40 184.40,554.40 184.40,552.20" stroke="#333" stroke-width="0.90" fill="none"/>
<polyline points="186.40,552.20 186.40,554.40 210.40,554.40 210.40,552.20" stroke="#333" stroke-width="0.90" fill="none"/>
<circle cx="162.50" cy="541.00" r="1.70" fill="#ff1a0d"/>
<circle cx="165.40" cy="541.80" r="1.70" fill="#ff1a0d"/>
<circle cx="168.80" cy="541.30" r="1.70" fill="#ff1a0d"/>
<line x1="161.10" y1="541.40" x2="169.70" y2="541.40" stroke="#333" stroke-width="0.90"/>
<circle cx="178.50" cy="473.30" r="1.70" fill="#1045ff"/>
<circle cx="178.50" cy="481.20" r="1.70" fill="#1045ff"/>
<circle cx="178.50" cy="523.20" r="1.70" fill="#1045ff"/>
<line x1="178.50" y1="477.20" x2="178.50" y2="507.70" stroke="#333" stroke-width="0.90"/>
<line x1="176.20" y1="477.20" x2="180.80" y2="477.20" stroke="#333" stroke-width="0.90"/>
<line x1="176.20" y1="507.70" x2="180.80" y2="507.70" stroke="#333" stroke-width="0.90"/>
<line x1="174.20" y1="492.30" x2="182.80" y2="492.30" stroke="#333" stroke-width="0.90"/>
<circle cx="188.60" cy="546.30" r="1.70" fill="#ff1a0d"/>
<circle cx="191.80" cy="548.00" r="1.70" fill="#ff1a0d"/>
<circle cx="195.30" cy="547.50" r="1.70" fill="#ff1a0d"/>
<line x1="187.50" y1="547.30" x2="196.10" y2="547.30" stroke="#333" stroke-width="0.90"/>
<circle cx="201.50" cy="543.50" r="1.70" fill="#1045ff"/>
<circle cx="204.80" cy="543.50" r="1.70" fill="#1045ff"/>
<circle cx="208.20" cy="543.50" r="1.70" fill="#1045ff"/>
<line x1="200.50" y1="543.50" x2="209.10" y2="543.50" stroke="#333" stroke-width="0.90"/>
<polyline points="178.50,461.20 178.50,458.90 204.80,458.90 204.80,461.20" stroke="#333" stroke-width="0.90" fill="none"/>
<text x="179.20" y="457.50" font-size="6.60" text-anchor="start" fill="#1e1e1e" stroke="#1e1e1e" stroke-width="0.18"><tspan font-style="italic">P</tspan> = 0.0392</text>
<polyline points="165.40,471.30 165.40,469.00 179.20,469.00 179.20,471.30" stroke="#333" stroke-width="0.90" fill="none"/>
<text x="162.40" y="466.70" font-size="6.60" text-anchor="start" fill="#1e1e1e" stroke="#1e1e1e" stroke-width="0.18"><tspan font-style="italic">P</tspan> = 0.0422</text>
<text x="136.90" y="561.60" font-size="6.00" text-anchor="start" fill="#1e1e1e" stroke="#1e1e1e" stroke-width="0.18">Guide:</text>
<text x="158.20" y="561.60" font-size="6.00" text-anchor="start" fill="#1e1e1e" stroke="#1e1e1e" stroke-width="0.18">Scramble</text>
<text x="189.70" y="561.60" font-size="6.00" text-anchor="start" fill="#1e1e1e" stroke="#1e1e1e" stroke-width="0.18">MYCp-1</text>
<text x="139.40" y="500.20" font-size="6.60" text-anchor="middle" fill="#1e1e1e" stroke="#1e1e1e" stroke-width="0.18" transform="rotate(-90 139.40 500.20)">Input (%)</text>
<line x1="262.80" y1="446.00" x2="262.80" y2="551.00" stroke="#7a7a7a" stroke-width="1.30"/>
<line x1="262.20" y1="550.50" x2="318.70" y2="550.50" stroke="#7a7a7a" stroke-width="1.30"/>
<line x1="262.80" y1="446.00" x2="265.00" y2="446.00" stroke="#444" stroke-width="0.90"/>
<text x="259.80" y="448.30" font-size="6.60" text-anchor="end" fill="#1e1e1e" stroke="#1e1e1e" stroke-width="0.18">0.004</text>
<line x1="262.80" y1="471.20" x2="265.00" y2="471.20" stroke="#444" stroke-width="0.90"/>
<text x="259.80" y="473.50" font-size="6.60" text-anchor="end" fill="#1e1e1e" stroke="#1e1e1e" stroke-width="0.18">0.003</text>
<line x1="262.80" y1="497.70" x2="265.00" y2="497.70" stroke="#444" stroke-width="0.90"/>
<text x="259.80" y="500.00" font-size="6.60" text-anchor="end" fill="#1e1e1e" stroke="#1e1e1e" stroke-width="0.18">0.002</text>
<line x1="262.80" y1="524.50" x2="265.00" y2="524.50" stroke="#444" stroke-width="0.90"/>
<text x="259.80" y="526.80" font-size="6.60" text-anchor="end" fill="#1e1e1e" stroke="#1e1e1e" stroke-width="0.18">0.001</text>
<line x1="262.80" y1="550.30" x2="265.00" y2="550.30" stroke="#444" stroke-width="0.90"/>
<text x="259.80" y="552.60" font-size="6.60" text-anchor="end" fill="#1e1e1e" stroke="#1e1e1e" stroke-width="0.18">0</text>
<text x="258.30" y="437.20" font-size="6.60" text-anchor="start" fill="#1e1e1e" stroke="#1e1e1e" stroke-width="0.18">KDM4B ChIP (<tspan font-style="italic">ABAT</tspan>p)</text>
<text x="236.00" y="436.60" font-size="10.00" text-anchor="start" fill="#000" stroke="#000" stroke-width="0.35" font-weight="bold">p</text>
<circle cx="266.20" cy="449.30" r="1.70" fill="#ff1a0d"/>
<circle cx="266.20" cy="456.70" r="1.70" fill="#1045ff"/>
<text x="268.80" y="451.60" font-size="6.60" text-anchor="start" fill="#1e1e1e" stroke="#1e1e1e" stroke-width="0.18">−E<tspan dy="1.98" font-size="4.62">2</tspan><tspan dy="-1.98"></tspan></text>
<text x="268.80" y="459.00" font-size="6.60" text-anchor="start" fill="#1e1e1e" stroke="#1e1e1e" stroke-width="0.18">+E<tspan dy="1.98" font-size="4.62">2</tspan><tspan dy="-1.98"></tspan></text>
<polyline points="265.00,552.20 265.00,554.40 289.30,554.40 289.30,552.20" stroke="#333" stroke-width="0.90" fill="none"/>
<polyline points="292.20,552.20 292.20,554.40 316.50,554.40 316.50,552.20" stroke="#333" stroke-width="0.90" fill="none"/>
<circle cx="268.20" cy="542.10" r="1.70" fill="#ff1a0d"/>
<circle cx="270.90" cy="547.50" r="1.70" fill="#ff1a0d"/>
<circle cx="273.70" cy="543.00" r="1.70" fill="#ff1a0d"/>
<line x1="270.90" y1="542.50" x2="270.90" y2="545.20" stroke="#333" stroke-width="0.90"/>
<line x1="268.60" y1="542.50" x2="273.20" y2="542.50" stroke="#333" stroke-width="0.90"/>
<line x1="268.60" y1="545.20" x2="273.20" y2="545.20" stroke="#333" stroke-width="0.90"/>
<line x1="266.60" y1="543.80" x2="275.20" y2="543.80" stroke="#333" stroke-width="0.90"/>
<circle cx="284.10" cy="472.80" r="1.70" fill="#1045ff"/>
<circle cx="284.10" cy="480.40" r="1.70" fill="#1045ff"/>
<circle cx="284.10" cy="505.20" r="1.70" fill="#1045ff"/>
<line x1="284.10" y1="476.30" x2="284.10" y2="495.50" stroke="#333" stroke-width="0.90"/>
<line x1="281.80" y1="476.30" x2="286.40" y2="476.30" stroke="#333" stroke-width="0.90"/>
<line x1="281.80" y1="495.50" x2="286.40" y2="495.50" stroke="#333" stroke-width="0.90"/>
<line x1="279.80" y1="486.40" x2="288.40" y2="486.40" stroke="#333" stroke-width="0.90"/>
<circle cx="294.20" cy="550.50" r="1.70" fill="#ff1a0d"/>
<circle cx="297.20" cy="550.50" r="1.70" fill="#ff1a0d"/>
<circle cx="300.20" cy="550.50" r="1.70" fill="#ff1a0d"/>
<line x1="292.90" y1="550.50" x2="301.50" y2="550.50" stroke="#333" stroke-width="0.90"/>
<circle cx="308.10" cy="532.10" r="1.70" fill="#1045ff"/>
<circle cx="310.60" cy="535.10" r="1.70" fill="#1045ff"/>
<circle cx="313.20" cy="533.80" r="1.70" fill="#1045ff"/>
<line x1="306.30" y1="534.10" x2="314.90" y2="534.10" stroke="#333" stroke-width="0.90"/>
<polyline points="284.10,461.20 284.10,458.90 310.60,458.90 310.60,461.20" stroke="#333" stroke-width="0.90" fill="none"/>
<text x="288.80" y="457.50" font-size="6.60" text-anchor="start" fill="#1e1e1e" stroke="#1e1e1e" stroke-width="0.18"><tspan font-style="italic">P</tspan> = 0.022</text>
<polyline points="271.20,470.90 271.20,468.60 284.60,468.60 284.60,470.90" stroke="#333" stroke-width="0.90" fill="none"/>
<text x="267.80" y="466.70" font-size="6.60" text-anchor="start" fill="#1e1e1e" stroke="#1e1e1e" stroke-width="0.18"><tspan font-style="italic">P</tspan> = 0.0199</text>
<text x="241.80" y="561.60" font-size="6.00" text-anchor="start" fill="#1e1e1e" stroke="#1e1e1e" stroke-width="0.18">Guide:</text>
<text x="264.00" y="561.60" font-size="6.00" text-anchor="start" fill="#1e1e1e" stroke="#1e1e1e" stroke-width="0.18">Scramble</text>
<text x="294.70" y="561.60" font-size="6.00" text-anchor="start" fill="#1e1e1e" stroke="#1e1e1e" stroke-width="0.18">ABATp-1</text>
<text x="240.50" y="500.20" font-size="6.60" text-anchor="middle" fill="#1e1e1e" stroke="#1e1e1e" stroke-width="0.18" transform="rotate(-90 240.50 500.20)">Input (%)</text>
<line x1="364.40" y1="446.00" x2="364.40" y2="551.00" stroke="#7a7a7a" stroke-width="1.30"/>
<line x1="363.80" y1="550.50" x2="420.60" y2="550.50" stroke="#7a7a7a" stroke-width="1.30"/>
<line x1="364.40" y1="446.00" x2="366.60" y2="446.00" stroke="#444" stroke-width="0.90"/>
<text x="361.40" y="448.30" font-size="6.60" text-anchor="end" fill="#1e1e1e" stroke="#1e1e1e" stroke-width="0.18">2.0</text>
<line x1="364.40" y1="471.50" x2="366.60" y2="471.50" stroke="#444" stroke-width="0.90"/>
<text x="361.40" y="473.80" font-size="6.60" text-anchor="end" fill="#1e1e1e" stroke="#1e1e1e" stroke-width="0.18">1.5</text>
<line x1="364.40" y1="498.00" x2="366.60" y2="498.00" stroke="#444" stroke-width="0.90"/>
<text x="361.40" y="500.30" font-size="6.60" text-anchor="end" fill="#1e1e1e" stroke="#1e1e1e" stroke-width="0.18">1.0</text>
<line x1="364.40" y1="524.50" x2="366.60" y2="524.50" stroke="#444" stroke-width="0.90"/>
<text x="361.40" y="526.80" font-size="6.60" text-anchor="end" fill="#1e1e1e" stroke="#1e1e1e" stroke-width="0.18">0.5</text>
<line x1="364.40" y1="550.30" x2="366.60" y2="550.30" stroke="#444" stroke-width="0.90"/>
<text x="361.40" y="552.60" font-size="6.60" text-anchor="end" fill="#1e1e1e" stroke="#1e1e1e" stroke-width="0.18">0</text>
<text x="360.50" y="437.20" font-size="6.60" text-anchor="start" fill="#1e1e1e" stroke="#1e1e1e" stroke-width="0.18">KDM4C ChIP (<tspan font-style="italic">TFF1</tspan>p)</text>
<text x="341.00" y="436.60" font-size="10.00" text-anchor="start" fill="#000" stroke="#000" stroke-width="0.35" font-weight="bold">q</text>
<circle cx="367.40" cy="449.30" r="1.70" fill="#ff1a0d"/>
<circle cx="367.40" cy="456.70" r="1.70" fill="#1045ff"/>
<text x="370.00" y="451.60" font-size="6.60" text-anchor="start" fill="#1e1e1e" stroke="#1e1e1e" stroke-width="0.18">−E<tspan dy="1.98" font-size="4.62">2</tspan><tspan dy="-1.98"></tspan></text>
<text x="370.00" y="459.00" font-size="6.60" text-anchor="start" fill="#1e1e1e" stroke="#1e1e1e" stroke-width="0.18">+E<tspan dy="1.98" font-size="4.62">2</tspan><tspan dy="-1.98"></tspan></text>
<polyline points="366.90,552.20 366.90,554.40 390.90,554.40 390.90,552.20" stroke="#333" stroke-width="0.90" fill="none"/>
<polyline points="393.30,552.20 393.30,554.40 417.30,554.40 417.30,552.20" stroke="#333" stroke-width="0.90" fill="none"/>
<circle cx="372.30" cy="500.50" r="1.70" fill="#ff1a0d"/>
<circle cx="372.30" cy="524.50" r="1.70" fill="#ff1a0d"/>
<circle cx="372.30" cy="537.10" r="1.70" fill="#ff1a0d"/>
<line x1="372.30" y1="510.30" x2="372.30" y2="530.70" stroke="#333" stroke-width="0.90"/>
<line x1="370.00" y1="510.30" x2="374.60" y2="510.30" stroke="#333" stroke-width="0.90"/>
<line x1="370.00" y1="530.70" x2="374.60" y2="530.70" stroke="#333" stroke-width="0.90"/>
<line x1="368.00" y1="520.30" x2="376.60" y2="520.30" stroke="#333" stroke-width="0.90"/>
<circle cx="385.40" cy="469.00" r="1.70" fill="#1045ff"/>
<circle cx="389.10" cy="471.70" r="1.70" fill="#1045ff"/>
<circle cx="385.40" cy="475.00" r="1.70" fill="#1045ff"/>
<line x1="385.60" y1="469.50" x2="385.60" y2="474.00" stroke="#333" stroke-width="0.90"/>
<line x1="383.30" y1="469.50" x2="387.90" y2="469.50" stroke="#333" stroke-width="0.90"/>
<line x1="383.30" y1="474.00" x2="387.90" y2="474.00" stroke="#333" stroke-width="0.90"/>
<line x1="381.30" y1="471.70" x2="389.90" y2="471.70" stroke="#333" stroke-width="0.90"/>
<circle cx="398.50" cy="536.80" r="1.70" fill="#ff1a0d"/>
<circle cx="401.60" cy="539.30" r="1.70" fill="#ff1a0d"/>
<circle cx="398.50" cy="545.50" r="1.70" fill="#ff1a0d"/>
<line x1="398.80" y1="537.40" x2="398.80" y2="543.00" stroke="#333" stroke-width="0.90"/>
<line x1="396.50" y1="537.40" x2="401.10" y2="537.40" stroke="#333" stroke-width="0.90"/>
<line x1="396.50" y1="543.00" x2="401.10" y2="543.00" stroke="#333" stroke-width="0.90"/>
<line x1="394.50" y1="540.50" x2="403.10" y2="540.50" stroke="#333" stroke-width="0.90"/>
<circle cx="411.70" cy="499.00" r="1.70" fill="#1045ff"/>
<circle cx="411.70" cy="509.40" r="1.70" fill="#1045ff"/>
<circle cx="411.70" cy="538.80" r="1.70" fill="#1045ff"/>
<line x1="411.70" y1="504.40" x2="411.70" y2="527.90" stroke="#333" stroke-width="0.90"/>
<line x1="409.40" y1="504.40" x2="414.00" y2="504.40" stroke="#333" stroke-width="0.90"/>
<line x1="409.40" y1="527.90" x2="414.00" y2="527.90" stroke="#333" stroke-width="0.90"/>
<line x1="407.40" y1="516.10" x2="416.00" y2="516.10" stroke="#333" stroke-width="0.90"/>
<polyline points="385.40,463.40 385.40,461.10 411.90,461.10 411.90,463.40" stroke="#333" stroke-width="0.90" fill="none"/>
<text x="387.00" y="459.20" font-size="6.60" text-anchor="start" fill="#1e1e1e" stroke="#1e1e1e" stroke-width="0.18"><tspan font-style="italic">P</tspan> = 0.0361</text>
<polyline points="372.30,490.70 372.30,488.40 386.20,488.40 386.20,490.70" stroke="#333" stroke-width="0.90" fill="none"/>
<text x="369.10" y="486.50" font-size="6.60" text-anchor="start" fill="#1e1e1e" stroke="#1e1e1e" stroke-width="0.18"><tspan font-style="italic">P</tspan> = 0.0205</text>
<text x="343.70" y="561.60" font-size="6.00" text-anchor="start" fill="#1e1e1e" stroke="#1e1e1e" stroke-width="0.18">Guide:</text>
<text x="365.20" y="561.60" font-size="6.00" text-anchor="start" fill="#1e1e1e" stroke="#1e1e1e" stroke-width="0.18">Scramble</text>
<text x="395.90" y="561.60" font-size="6.00" text-anchor="start" fill="#1e1e1e" stroke="#1e1e1e" stroke-width="0.18">TFF1p-2</text>
<text x="346.30" y="500.20" font-size="6.60" text-anchor="middle" fill="#1e1e1e" stroke="#1e1e1e" stroke-width="0.18" transform="rotate(-90 346.30 500.20)">Input (%)</text>
<line x1="467.70" y1="446.00" x2="467.70" y2="551.00" stroke="#7a7a7a" stroke-width="1.30"/>
<line x1="467.10" y1="550.50" x2="523.90" y2="550.50" stroke="#7a7a7a" stroke-width="1.30"/>
<line x1="467.70" y1="446.00" x2="469.90" y2="446.00" stroke="#444" stroke-width="0.90"/>
<text x="464.70" y="448.30" font-size="6.60" text-anchor="end" fill="#1e1e1e" stroke="#1e1e1e" stroke-width="0.18">0.010</text>
<line x1="467.70" y1="466.60" x2="469.90" y2="466.60" stroke="#444" stroke-width="0.90"/>
<text x="464.70" y="468.90" font-size="6.60" text-anchor="end" fill="#1e1e1e" stroke="#1e1e1e" stroke-width="0.18">0.008</text>
<line x1="467.70" y1="487.60" x2="469.90" y2="487.60" stroke="#444" stroke-width="0.90"/>
<text x="464.70" y="489.90" font-size="6.60" text-anchor="end" fill="#1e1e1e" stroke="#1e1e1e" stroke-width="0.18">0.006</text>
<line x1="467.70" y1="508.60" x2="469.90" y2="508.60" stroke="#444" stroke-width="0.90"/>
<text x="464.70" y="510.90" font-size="6.60" text-anchor="end" fill="#1e1e1e" stroke="#1e1e1e" stroke-width="0.18">0.004</text>
<line x1="467.70" y1="529.60" x2="469.90" y2="529.60" stroke="#444" stroke-width="0.90"/>
<text x="464.70" y="531.90" font-size="6.60" text-anchor="end" fill="#1e1e1e" stroke="#1e1e1e" stroke-width="0.18">0.002</text>
<line x1="467.70" y1="550.30" x2="469.90" y2="550.30" stroke="#444" stroke-width="0.90"/>
<text x="464.70" y="552.60" font-size="6.60" text-anchor="end" fill="#1e1e1e" stroke="#1e1e1e" stroke-width="0.18">0</text>
<text x="464.80" y="437.20" font-size="6.60" text-anchor="start" fill="#1e1e1e" stroke="#1e1e1e" stroke-width="0.18">KDM4C ChIP (MYCp)</text>
<text x="439.00" y="436.60" font-size="10.00" text-anchor="start" fill="#000" stroke="#000" stroke-width="0.35" font-weight="bold">r</text>
<circle cx="471.10" cy="449.30" r="1.70" fill="#ff1a0d"/>
<circle cx="471.10" cy="456.70" r="1.70" fill="#1045ff"/>
<text x="473.70" y="451.60" font-size="6.60" text-anchor="start" fill="#1e1e1e" stroke="#1e1e1e" stroke-width="0.18">−E<tspan dy="1.98" font-size="4.62">2</tspan><tspan dy="-1.98"></tspan></text>
<text x="473.70" y="459.00" font-size="6.60" text-anchor="start" fill="#1e1e1e" stroke="#1e1e1e" stroke-width="0.18">+E<tspan dy="1.98" font-size="4.62">2</tspan><tspan dy="-1.98"></tspan></text>
<polyline points="470.70,552.20 470.70,554.40 494.60,554.40 494.60,552.20" stroke="#333" stroke-width="0.90" fill="none"/>
<polyline points="497.10,552.20 497.10,554.40 521.80,554.40 521.80,552.20" stroke="#333" stroke-width="0.90" fill="none"/>
<circle cx="473.20" cy="512.30" r="1.70" fill="#ff1a0d"/>
<circle cx="476.10" cy="515.30" r="1.70" fill="#ff1a0d"/>
<circle cx="479.40" cy="513.60" r="1.70" fill="#ff1a0d"/>
<line x1="471.80" y1="513.60" x2="480.40" y2="513.60" stroke="#333" stroke-width="0.90"/>
<circle cx="487.80" cy="456.10" r="1.70" fill="#1045ff"/>
<circle cx="490.90" cy="456.90" r="1.70" fill="#1045ff"/>
<circle cx="489.20" cy="464.40" r="1.70" fill="#1045ff"/>
<line x1="489.50" y1="457.50" x2="489.50" y2="462.30" stroke="#333" stroke-width="0.90"/>
<line x1="487.20" y1="457.50" x2="491.80" y2="457.50" stroke="#333" stroke-width="0.90"/>
<line x1="487.20" y1="462.30" x2="491.80" y2="462.30" stroke="#333" stroke-width="0.90"/>
<line x1="485.20" y1="459.90" x2="493.80" y2="459.90" stroke="#333" stroke-width="0.90"/>
<circle cx="499.10" cy="535.80" r="1.70" fill="#ff1a0d"/>
<circle cx="502.10" cy="536.80" r="1.70" fill="#ff1a0d"/>
<circle cx="505.50" cy="535.80" r="1.70" fill="#ff1a0d"/>
<line x1="497.80" y1="536.10" x2="506.40" y2="536.10" stroke="#333" stroke-width="0.90"/>
<circle cx="515.50" cy="506.90" r="1.70" fill="#1045ff"/>
<circle cx="515.50" cy="515.30" r="1.70" fill="#1045ff"/>
<circle cx="515.50" cy="527.00" r="1.70" fill="#1045ff"/>
<line x1="515.50" y1="510.60" x2="515.50" y2="522.30" stroke="#333" stroke-width="0.90"/>
<line x1="513.20" y1="510.60" x2="517.80" y2="510.60" stroke="#333" stroke-width="0.90"/>
<line x1="513.20" y1="522.30" x2="517.80" y2="522.30" stroke="#333" stroke-width="0.90"/>
<line x1="511.20" y1="516.10" x2="519.80" y2="516.10" stroke="#333" stroke-width="0.90"/>
<polyline points="489.20,475.60 489.20,473.30 515.50,473.30 515.50,475.60" stroke="#333" stroke-width="0.90" fill="none"/>
<text x="490.70" y="471.80" font-size="6.60" text-anchor="start" fill="#1e1e1e" stroke="#1e1e1e" stroke-width="0.18"><tspan font-style="italic">P</tspan> = 0.0068</text>
<polyline points="476.10,485.20 476.10,482.90 490.00,482.90 490.00,485.20" stroke="#333" stroke-width="0.90" fill="none"/>
<text x="473.10" y="481.00" font-size="6.60" text-anchor="start" fill="#1e1e1e" stroke="#1e1e1e" stroke-width="0.18"><tspan font-style="italic">P</tspan> = 0.0017</text>
<text x="447.00" y="561.60" font-size="6.00" text-anchor="start" fill="#1e1e1e" stroke="#1e1e1e" stroke-width="0.18">Guide:</text>
<text x="468.50" y="561.60" font-size="6.00" text-anchor="start" fill="#1e1e1e" stroke="#1e1e1e" stroke-width="0.18">Scramble</text>
<text x="500.40" y="561.60" font-size="6.00" text-anchor="start" fill="#1e1e1e" stroke="#1e1e1e" stroke-width="0.18">MYCp-1</text>
<text x="443.00" y="500.20" font-size="6.60" text-anchor="middle" fill="#1e1e1e" stroke="#1e1e1e" stroke-width="0.18" transform="rotate(-90 443.00 500.20)">Input (%)</text>
<line x1="566.60" y1="446.00" x2="566.60" y2="551.00" stroke="#7a7a7a" stroke-width="1.30"/>
<line x1="566.00" y1="550.50" x2="622.30" y2="550.50" stroke="#7a7a7a" stroke-width="1.30"/>
<line x1="566.60" y1="446.00" x2="568.80" y2="446.00" stroke="#444" stroke-width="0.90"/>
<text x="563.60" y="448.30" font-size="6.60" text-anchor="end" fill="#1e1e1e" stroke="#1e1e1e" stroke-width="0.18">0.15</text>
<line x1="566.60" y1="480.40" x2="568.80" y2="480.40" stroke="#444" stroke-width="0.90"/>
<text x="563.60" y="482.70" font-size="6.60" text-anchor="end" fill="#1e1e1e" stroke="#1e1e1e" stroke-width="0.18">0.10</text>
<line x1="566.60" y1="515.60" x2="568.80" y2="515.60" stroke="#444" stroke-width="0.90"/>
<text x="563.60" y="517.90" font-size="6.60" text-anchor="end" fill="#1e1e1e" stroke="#1e1e1e" stroke-width="0.18">0.05</text>
<line x1="566.60" y1="550.30" x2="568.80" y2="550.30" stroke="#444" stroke-width="0.90"/>
<text x="563.60" y="552.60" font-size="6.60" text-anchor="end" fill="#1e1e1e" stroke="#1e1e1e" stroke-width="0.18">0</text>
<text x="561.90" y="437.20" font-size="6.60" text-anchor="start" fill="#1e1e1e" stroke="#1e1e1e" stroke-width="0.18">KDM4C ChIP (<tspan font-style="italic">ABAT</tspan>p)</text>
<text x="541.50" y="436.60" font-size="10.00" text-anchor="start" fill="#000" stroke="#000" stroke-width="0.35" font-weight="bold">s</text>
<circle cx="569.70" cy="449.30" r="1.70" fill="#ff1a0d"/>
<circle cx="569.70" cy="456.70" r="1.70" fill="#1045ff"/>
<text x="572.30" y="451.60" font-size="6.60" text-anchor="start" fill="#1e1e1e" stroke="#1e1e1e" stroke-width="0.18">−E<tspan dy="1.98" font-size="4.62">2</tspan><tspan dy="-1.98"></tspan></text>
<text x="572.30" y="459.00" font-size="6.60" text-anchor="start" fill="#1e1e1e" stroke="#1e1e1e" stroke-width="0.18">+E<tspan dy="1.98" font-size="4.62">2</tspan><tspan dy="-1.98"></tspan></text>
<polyline points="569.40,552.20 569.40,554.40 593.40,554.40 593.40,552.20" stroke="#333" stroke-width="0.90" fill="none"/>
<polyline points="595.80,552.20 595.80,554.40 619.80,554.40 619.80,552.20" stroke="#333" stroke-width="0.90" fill="none"/>
<circle cx="571.90" cy="540.50" r="1.70" fill="#ff1a0d"/>
<circle cx="574.80" cy="546.30" r="1.70" fill="#ff1a0d"/>
<circle cx="578.30" cy="543.00" r="1.70" fill="#ff1a0d"/>
<line x1="574.80" y1="541.80" x2="574.80" y2="545.00" stroke="#333" stroke-width="0.90"/>
<line x1="572.50" y1="541.80" x2="577.10" y2="541.80" stroke="#333" stroke-width="0.90"/>
<line x1="572.50" y1="545.00" x2="577.10" y2="545.00" stroke="#333" stroke-width="0.90"/>
<line x1="570.50" y1="543.50" x2="579.10" y2="543.50" stroke="#333" stroke-width="0.90"/>
<circle cx="587.90" cy="463.60" r="1.70" fill="#1045ff"/>
<circle cx="590.70" cy="469.50" r="1.70" fill="#1045ff"/>
<circle cx="587.90" cy="475.40" r="1.70" fill="#1045ff"/>
<line x1="588.20" y1="466.10" x2="588.20" y2="473.30" stroke="#333" stroke-width="0.90"/>
<line x1="585.90" y1="466.10" x2="590.50" y2="466.10" stroke="#333" stroke-width="0.90"/>
<line x1="585.90" y1="473.30" x2="590.50" y2="473.30" stroke="#333" stroke-width="0.90"/>
<line x1="583.90" y1="469.50" x2="592.50" y2="469.50" stroke="#333" stroke-width="0.90"/>
<circle cx="598.00" cy="548.50" r="1.70" fill="#ff1a0d"/>
<circle cx="601.00" cy="550.50" r="1.70" fill="#ff1a0d"/>
<circle cx="604.20" cy="550.50" r="1.70" fill="#ff1a0d"/>
<line x1="596.70" y1="549.80" x2="605.30" y2="549.80" stroke="#333" stroke-width="0.90"/>
<circle cx="613.90" cy="495.10" r="1.70" fill="#1045ff"/>
<circle cx="613.90" cy="506.40" r="1.70" fill="#1045ff"/>
<circle cx="613.90" cy="526.20" r="1.70" fill="#1045ff"/>
<line x1="613.90" y1="500.20" x2="613.90" y2="519.10" stroke="#333" stroke-width="0.90"/>
<line x1="611.60" y1="500.20" x2="616.20" y2="500.20" stroke="#333" stroke-width="0.90"/>
<line x1="611.60" y1="519.10" x2="616.20" y2="519.10" stroke="#333" stroke-width="0.90"/>
<line x1="609.60" y1="509.40" x2="618.20" y2="509.40" stroke="#333" stroke-width="0.90"/>
<polyline points="587.50,485.70 587.50,483.40 614.20,483.40 614.20,485.70" stroke="#333" stroke-width="0.90" fill="none"/>
<text x="589.60" y="482.30" font-size="6.60" text-anchor="start" fill="#1e1e1e" stroke="#1e1e1e" stroke-width="0.18"><tspan font-style="italic">P</tspan> = 0.0415</text>
<polyline points="575.00,495.80 575.00,493.50 588.70,493.50 588.70,495.80" stroke="#333" stroke-width="0.90" fill="none"/>
<text x="571.60" y="492.10" font-size="6.60" text-anchor="start" fill="#1e1e1e" stroke="#1e1e1e" stroke-width="0.18"><tspan font-style="italic">P</tspan> = 0.0024</text>
<text x="545.90" y="561.60" font-size="6.00" text-anchor="start" fill="#1e1e1e" stroke="#1e1e1e" stroke-width="0.18">Guide:</text>
<text x="567.40" y="561.60" font-size="6.00" text-anchor="start" fill="#1e1e1e" stroke="#1e1e1e" stroke-width="0.18">Scramble</text>
<text x="598.50" y="561.60" font-size="6.00" text-anchor="start" fill="#1e1e1e" stroke="#1e1e1e" stroke-width="0.18">ABATp-1</text>
<text x="546.30" y="500.20" font-size="6.60" text-anchor="middle" fill="#1e1e1e" stroke="#1e1e1e" stroke-width="0.18" transform="rotate(-90 546.30 500.20)">Input (%)</text>
<text x="68.80" y="178.20" font-size="10.00" text-anchor="start" fill="#000" stroke="#000" stroke-width="0.35" font-weight="bold">g</text>
<text x="180.00" y="200.40" font-size="6.60" text-anchor="end" fill="#1e1e1e" stroke="#1e1e1e" stroke-width="0.18">dCas9</text>
<rect x="183.2" y="196.60" width="16.6" height="3" fill="#7b86f0"/>
<rect x="199.8" y="196.60" width="57" height="3" fill="#f9c07a"/>
<polyline points="199.40,196.70 199.40,193.40 208.00,193.40" stroke="#000" stroke-width="1.00" fill="none"/>
<polygon points="207.4,191.00 214.8,193.40 207.4,195.80" fill="#000"/>
<text x="180.00" y="219.60" font-size="6.60" text-anchor="end" fill="#1e1e1e" stroke="#1e1e1e" stroke-width="0.18">dCas9–<tspan font-style="italic">ABAT</tspan> gRNA-1–CTL RNA</text>
<rect x="183.2" y="215.80" width="16.6" height="3" fill="#7b86f0"/>
<rect x="199.8" y="215.80" width="57" height="3" fill="#f9c07a"/>
<polyline points="199.40,215.90 199.40,212.60 208.00,212.60" stroke="#000" stroke-width="1.00" fill="none"/>
<polygon points="207.4,210.20 214.8,212.60 207.4,215.00" fill="#000"/>
<ellipse cx="193.3" cy="213.60" rx="5.5" ry="4.4" fill="#f8d640"/>
<circle cx="193.1" cy="208.10" r="4.0" fill="#f8d640"/>
<circle cx="193.1" cy="207.60" r="1.25" fill="none" stroke="#2ea84a" stroke-width="0.9"/>
<line x1="193.1" y1="208.80" x2="193.1" y2="214.30" stroke="#2ea84a" stroke-width="1.1"/>
<path d="M185.7 213.40 L 188 214.10 L 196.3 214.10" stroke="#4f6cf5" stroke-width="0.8" fill="none"/>
<text x="180.00" y="239.20" font-size="6.60" text-anchor="end" fill="#1e1e1e" stroke="#1e1e1e" stroke-width="0.18">dCas9–<tspan font-style="italic">ABAT</tspan> gRNA-2–CTL RNA</text>
<rect x="183.2" y="235.40" width="16.6" height="3" fill="#7b86f0"/>
<rect x="199.8" y="235.40" width="57" height="3" fill="#f9c07a"/>
<polyline points="199.40,235.50 199.40,232.20 208.00,232.20" stroke="#000" stroke-width="1.00" fill="none"/>
<polygon points="207.4,229.80 214.8,232.20 207.4,234.60" fill="#000"/>
<ellipse cx="193.3" cy="233.20" rx="5.5" ry="4.4" fill="#f8d640"/>
<circle cx="193.1" cy="227.70" r="4.0" fill="#f8d640"/>
<circle cx="193.1" cy="227.20" r="1.25" fill="none" stroke="#2ea84a" stroke-width="0.9"/>
<line x1="193.1" y1="228.40" x2="193.1" y2="233.90" stroke="#2ea84a" stroke-width="1.1"/>
<path d="M185.7 233.00 L 188 233.70 L 196.3 233.70" stroke="#4f6cf5" stroke-width="0.8" fill="none"/>
<text x="180.00" y="258.80" font-size="6.60" text-anchor="end" fill="#1e1e1e" stroke="#1e1e1e" stroke-width="0.18">dCas9–<tspan font-style="italic">ABAT</tspan> gRNA-1–<tspan font-style="italic">ABAT</tspan> PAS RNA</text>
<rect x="183.2" y="255.00" width="16.6" height="3" fill="#7b86f0"/>
<rect x="199.8" y="255.00" width="57" height="3" fill="#f9c07a"/>
<polyline points="199.40,255.10 199.40,251.80 208.00,251.80" stroke="#000" stroke-width="1.00" fill="none"/>
<polygon points="207.4,249.40 214.8,251.80 207.4,254.20" fill="#000"/>
<ellipse cx="193.3" cy="252.80" rx="5.5" ry="4.4" fill="#f8d640"/>
<circle cx="193.1" cy="247.30" r="4.0" fill="#f8d640"/>
<circle cx="193.1" cy="246.80" r="1.25" fill="none" stroke="#2ea84a" stroke-width="0.9"/>
<line x1="193.1" y1="248.00" x2="193.1" y2="253.50" stroke="#2ea84a" stroke-width="1.1"/>
<path d="M185.7 252.60 L 188 253.30 L 196.3 253.30" stroke="#f03030" stroke-width="0.8" fill="none"/>
<text x="180.00" y="278.20" font-size="6.60" text-anchor="end" fill="#1e1e1e" stroke="#1e1e1e" stroke-width="0.18">dCas9–<tspan font-style="italic">ABAT</tspan> gRNA-2–<tspan font-style="italic">ABAT</tspan> PAS RNA</text>
<rect x="183.2" y="274.40" width="16.6" height="3" fill="#7b86f0"/>
<rect x="199.8" y="274.40" width="57" height="3" fill="#f9c07a"/>
<polyline points="199.40,274.50 199.40,271.20 208.00,271.20" stroke="#000" stroke-width="1.00" fill="none"/>
<polygon points="207.4,268.80 214.8,271.20 207.4,273.60" fill="#000"/>
<ellipse cx="193.3" cy="272.20" rx="5.5" ry="4.4" fill="#f8d640"/>
<circle cx="193.1" cy="266.70" r="4.0" fill="#f8d640"/>
<circle cx="193.1" cy="266.20" r="1.25" fill="none" stroke="#2ea84a" stroke-width="0.9"/>
<line x1="193.1" y1="267.40" x2="193.1" y2="272.90" stroke="#2ea84a" stroke-width="1.1"/>
<path d="M185.7 272.00 L 188 272.70 L 196.3 272.70" stroke="#f03030" stroke-width="0.8" fill="none"/>
<line x1="260.30" y1="191.00" x2="260.30" y2="286.00" stroke="#333" stroke-width="0.90"/>
<line x1="260.30" y1="191.00" x2="339.48" y2="191.00" stroke="#333" stroke-width="0.90"/>
<line x1="260.30" y1="191.00" x2="260.30" y2="193.30" stroke="#333" stroke-width="0.90"/>
<text x="258.10" y="170.60" font-size="6.60" text-anchor="start" fill="#1e1e1e" stroke="#1e1e1e" stroke-width="0.18" transform="rotate(90 258.10 170.60)">0.004</text>
<line x1="273.43" y1="191.00" x2="273.43" y2="193.30" stroke="#333" stroke-width="0.90"/>
<text x="271.23" y="170.60" font-size="6.60" text-anchor="start" fill="#1e1e1e" stroke="#1e1e1e" stroke-width="0.18" transform="rotate(90 271.23 170.60)">0.005</text>
<line x1="286.56" y1="191.00" x2="286.56" y2="193.30" stroke="#333" stroke-width="0.90"/>
<text x="284.36" y="170.60" font-size="6.60" text-anchor="start" fill="#1e1e1e" stroke="#1e1e1e" stroke-width="0.18" transform="rotate(90 284.36 170.60)">0.006</text>
<line x1="299.69" y1="191.00" x2="299.69" y2="193.30" stroke="#333" stroke-width="0.90"/>
<text x="297.49" y="170.60" font-size="6.60" text-anchor="start" fill="#1e1e1e" stroke="#1e1e1e" stroke-width="0.18" transform="rotate(90 297.49 170.60)">0.007</text>
<line x1="312.82" y1="191.00" x2="312.82" y2="193.30" stroke="#333" stroke-width="0.90"/>
<text x="310.62" y="170.60" font-size="6.60" text-anchor="start" fill="#1e1e1e" stroke="#1e1e1e" stroke-width="0.18" transform="rotate(90 310.62 170.60)">0.008</text>
<line x1="325.95" y1="191.00" x2="325.95" y2="193.30" stroke="#333" stroke-width="0.90"/>
<text x="323.75" y="170.60" font-size="6.60" text-anchor="start" fill="#1e1e1e" stroke="#1e1e1e" stroke-width="0.18" transform="rotate(90 323.75 170.60)">0.009</text>
<line x1="339.08" y1="191.00" x2="339.08" y2="193.30" stroke="#333" stroke-width="0.90"/>
<text x="336.88" y="170.60" font-size="6.60" text-anchor="start" fill="#1e1e1e" stroke="#1e1e1e" stroke-width="0.18" transform="rotate(90 336.88 170.60)">0.010</text>
<text x="302.00" y="166.90" font-size="6.60" text-anchor="middle" fill="#1e1e1e" stroke="#1e1e1e" stroke-width="0.18">Input (%)</text>
<circle cx="312.60" cy="197.70" r="1.70" fill="#22b04a"/>
<circle cx="320.20" cy="197.70" r="1.70" fill="#22b04a"/>
<circle cx="312.60" cy="201.80" r="1.70" fill="#22b04a"/>
<line x1="316.20" y1="194.50" x2="316.20" y2="201.70" stroke="#333" stroke-width="0.90"/>
<line x1="313.00" y1="198.10" x2="319.50" y2="198.10" stroke="#333" stroke-width="0.90"/>
<line x1="313.00" y1="196.10" x2="313.00" y2="200.10" stroke="#333" stroke-width="0.90"/>
<line x1="319.50" y1="196.10" x2="319.50" y2="200.10" stroke="#333" stroke-width="0.90"/>
<circle cx="303.70" cy="217.80" r="1.70" fill="#1045ff"/>
<circle cx="310.20" cy="217.80" r="1.70" fill="#1045ff"/>
<circle cx="315.40" cy="217.80" r="1.70" fill="#1045ff"/>
<line x1="310.20" y1="213.70" x2="310.20" y2="220.90" stroke="#333" stroke-width="0.90"/>
<line x1="307.50" y1="217.30" x2="313.00" y2="217.30" stroke="#333" stroke-width="0.90"/>
<line x1="307.50" y1="215.30" x2="307.50" y2="219.30" stroke="#333" stroke-width="0.90"/>
<line x1="313.00" y1="215.30" x2="313.00" y2="219.30" stroke="#333" stroke-width="0.90"/>
<circle cx="298.90" cy="237.00" r="1.70" fill="#1045ff"/>
<circle cx="301.80" cy="238.90" r="1.70" fill="#1045ff"/>
<circle cx="310.20" cy="236.50" r="1.70" fill="#1045ff"/>
<line x1="303.70" y1="233.30" x2="303.70" y2="240.50" stroke="#333" stroke-width="0.90"/>
<line x1="300.80" y1="236.90" x2="306.50" y2="236.90" stroke="#333" stroke-width="0.90"/>
<line x1="300.80" y1="234.90" x2="300.80" y2="238.90" stroke="#333" stroke-width="0.90"/>
<line x1="306.50" y1="234.90" x2="306.50" y2="238.90" stroke="#333" stroke-width="0.90"/>
<circle cx="274.70" cy="255.20" r="1.70" fill="#ff1a0d"/>
<circle cx="278.30" cy="253.30" r="1.70" fill="#ff1a0d"/>
<circle cx="276.60" cy="258.60" r="1.70" fill="#ff1a0d"/>
<line x1="276.10" y1="252.90" x2="276.10" y2="260.10" stroke="#333" stroke-width="0.90"/>
<line x1="275.00" y1="256.50" x2="277.50" y2="256.50" stroke="#333" stroke-width="0.90"/>
<line x1="275.00" y1="254.50" x2="275.00" y2="258.50" stroke="#333" stroke-width="0.90"/>
<line x1="277.50" y1="254.50" x2="277.50" y2="258.50" stroke="#333" stroke-width="0.90"/>
<circle cx="282.10" cy="275.60" r="1.70" fill="#ff1a0d"/>
<circle cx="285.00" cy="277.30" r="1.70" fill="#ff1a0d"/>
<circle cx="286.90" cy="275.60" r="1.70" fill="#ff1a0d"/>
<line x1="284.30" y1="272.30" x2="284.30" y2="279.50" stroke="#333" stroke-width="0.90"/>
<line x1="283.30" y1="275.90" x2="285.50" y2="275.90" stroke="#333" stroke-width="0.90"/>
<line x1="283.30" y1="273.90" x2="283.30" y2="277.90" stroke="#333" stroke-width="0.90"/>
<line x1="285.50" y1="273.90" x2="285.50" y2="277.90" stroke="#333" stroke-width="0.90"/>
<polyline points="319.00,217.80 321.00,217.80 321.00,256.20 319.00,256.20" stroke="#333" stroke-width="0.90" fill="none"/>
<text x="323.30" y="225.70" font-size="6.60" text-anchor="start" fill="#1e1e1e" stroke="#1e1e1e" stroke-width="0.18" transform="rotate(90 323.30 225.70)"><tspan font-style="italic">P</tspan> = 0.0044</text>
<polyline points="330.20,236.50 332.20,236.50 332.20,276.10 330.20,276.10" stroke="#333" stroke-width="0.90" fill="none"/>
<text x="334.50" y="245.60" font-size="6.60" text-anchor="start" fill="#1e1e1e" stroke="#1e1e1e" stroke-width="0.18" transform="rotate(90 334.50 245.60)"><tspan font-style="italic">P</tspan> = 0.0097</text>
<text x="345.30" y="204.70" font-size="6.60" text-anchor="start" fill="#1e1e1e" stroke="#1e1e1e" stroke-width="0.18" transform="rotate(90 345.30 204.70)">H3K9me3 ChIP (<tspan font-style="italic">ABAT</tspan>p)</text>
<line x1="517.70" y1="184.50" x2="517.70" y2="270.00" stroke="#7a7a7a" stroke-width="1.20"/>
<line x1="517.10" y1="270.00" x2="584.50" y2="270.00" stroke="#7a7a7a" stroke-width="1.20"/>
<line x1="515.70" y1="187.30" x2="517.70" y2="187.30" stroke="#444" stroke-width="0.90"/>
<text x="514.90" y="189.60" font-size="6.60" text-anchor="end" fill="#1e1e1e" stroke="#1e1e1e" stroke-width="0.18">100</text>
<line x1="515.70" y1="203.20" x2="517.70" y2="203.20" stroke="#444" stroke-width="0.90"/>
<text x="514.90" y="205.50" font-size="6.60" text-anchor="end" fill="#1e1e1e" stroke="#1e1e1e" stroke-width="0.18">80</text>
<line x1="515.70" y1="219.00" x2="517.70" y2="219.00" stroke="#444" stroke-width="0.90"/>
<text x="514.90" y="221.30" font-size="6.60" text-anchor="end" fill="#1e1e1e" stroke="#1e1e1e" stroke-width="0.18">60</text>
<line x1="515.70" y1="234.70" x2="517.70" y2="234.70" stroke="#444" stroke-width="0.90"/>
<text x="514.90" y="237.00" font-size="6.60" text-anchor="end" fill="#1e1e1e" stroke="#1e1e1e" stroke-width="0.18">40</text>
<line x1="515.70" y1="250.50" x2="517.70" y2="250.50" stroke="#444" stroke-width="0.90"/>
<text x="514.90" y="252.80" font-size="6.60" text-anchor="end" fill="#1e1e1e" stroke="#1e1e1e" stroke-width="0.18">20</text>
<line x1="515.70" y1="266.20" x2="517.70" y2="266.20" stroke="#444" stroke-width="0.90"/>
<text x="514.90" y="268.50" font-size="6.60" text-anchor="end" fill="#1e1e1e" stroke="#1e1e1e" stroke-width="0.18">0</text>
<polyline points="521.40,271.70 521.40,273.50 546.80,273.50 546.80,271.70" stroke="#555" stroke-width="0.90" fill="none"/>
<text x="534.10" y="281.60" font-size="6.60" text-anchor="middle" fill="#1e1e1e" stroke="#1e1e1e" stroke-width="0.18">PR</text>
<polyline points="556.40,271.70 556.40,273.50 581.60,273.50 581.60,271.70" stroke="#555" stroke-width="0.90" fill="none"/>
<text x="569.00" y="281.60" font-size="6.60" text-anchor="middle" fill="#1e1e1e" stroke="#1e1e1e" stroke-width="0.18">RSG</text>
<line x1="527.00" y1="183.90" x2="527.00" y2="212.70" stroke="#666" stroke-width="0.90"/>
<line x1="527.00" y1="239.60" x2="527.00" y2="263.20" stroke="#666" stroke-width="0.90"/>
<line x1="524.60" y1="183.90" x2="529.40" y2="183.90" stroke="#333" stroke-width="0.90"/>
<line x1="524.60" y1="263.20" x2="529.40" y2="263.20" stroke="#333" stroke-width="0.90"/>
<rect x="522.30" y="212.70" width="9.40" height="26.90" fill="#f51c0c" stroke="#1a1a1a" stroke-width="0.9"/>
<line x1="522.30" y1="227.60" x2="531.70" y2="227.60" stroke="#1a1a1a" stroke-width="1.00"/>
<line x1="541.45" y1="183.90" x2="541.45" y2="203.90" stroke="#666" stroke-width="0.90"/>
<line x1="541.45" y1="231.90" x2="541.45" y2="264.30" stroke="#666" stroke-width="0.90"/>
<line x1="539.05" y1="183.90" x2="543.85" y2="183.90" stroke="#333" stroke-width="0.90"/>
<line x1="539.05" y1="264.30" x2="543.85" y2="264.30" stroke="#333" stroke-width="0.90"/>
<rect x="537.00" y="203.90" width="8.90" height="28.00" fill="#0f4df5" stroke="#1a1a1a" stroke-width="0.9"/>
<line x1="537.00" y1="220.60" x2="545.90" y2="220.60" stroke="#1a1a1a" stroke-width="1.00"/>
<line x1="561.45" y1="194.30" x2="561.45" y2="230.70" stroke="#666" stroke-width="0.90"/>
<line x1="561.45" y1="254.50" x2="561.45" y2="266.80" stroke="#666" stroke-width="0.90"/>
<line x1="559.05" y1="194.30" x2="563.85" y2="194.30" stroke="#333" stroke-width="0.90"/>
<line x1="559.05" y1="266.80" x2="563.85" y2="266.80" stroke="#333" stroke-width="0.90"/>
<rect x="557.00" y="230.70" width="8.90" height="23.80" fill="#f51c0c" stroke="#1a1a1a" stroke-width="0.9"/>
<line x1="557.00" y1="245.70" x2="565.90" y2="245.70" stroke="#1a1a1a" stroke-width="1.00"/>
<circle cx="561.45" cy="185.00" r="0.7" fill="#111"/>
<circle cx="561.45" cy="187.70" r="0.7" fill="#111"/>
<circle cx="561.45" cy="189.90" r="0.7" fill="#111"/>
<circle cx="561.45" cy="192.00" r="0.7" fill="#111"/>
<line x1="576.05" y1="187.40" x2="576.05" y2="227.40" stroke="#666" stroke-width="0.90"/>
<line x1="576.05" y1="255.00" x2="576.05" y2="266.50" stroke="#666" stroke-width="0.90"/>
<line x1="573.65" y1="187.40" x2="578.45" y2="187.40" stroke="#333" stroke-width="0.90"/>
<line x1="573.65" y1="266.50" x2="578.45" y2="266.50" stroke="#333" stroke-width="0.90"/>
<rect x="571.60" y="227.40" width="8.90" height="27.60" fill="#0f4df5" stroke="#1a1a1a" stroke-width="0.9"/>
<line x1="571.60" y1="246.30" x2="580.50" y2="246.30" stroke="#1a1a1a" stroke-width="1.00"/>
<circle cx="576.05" cy="185.00" r="0.7" fill="#111"/>
<polyline points="526.70,182.00 526.70,180.10 541.60,180.10 541.60,182.00" stroke="#333" stroke-width="0.90" fill="none"/>
<polyline points="561.40,182.00 561.40,180.10 576.00,180.10 576.00,182.00" stroke="#333" stroke-width="0.90" fill="none"/>
<text x="511.10" y="179.00" font-size="6.60" text-anchor="start" fill="#1e1e1e" stroke="#1e1e1e" stroke-width="0.18"><tspan font-style="italic">P</tspan> = 4.1 × 10<tspan dy="-2.51" font-size="4.62">−10</tspan><tspan dy="2.51"></tspan></text>
<text x="558.40" y="179.00" font-size="6.60" text-anchor="start" fill="#1e1e1e" stroke="#1e1e1e" stroke-width="0.18"><tspan font-style="italic">P</tspan> = 0.7860</text>
<rect x="587.30" y="190.20" width="4" height="3.8" fill="#f51c0c" stroke="#222" stroke-width="0.6"/>
<rect x="587.30" y="197.60" width="4" height="3.8" fill="#0f4df5" stroke="#222" stroke-width="0.6"/>
<text x="592.50" y="193.80" font-size="6.60" text-anchor="start" fill="#1e1e1e" stroke="#1e1e1e" stroke-width="0.18">−E<tspan dy="1.98" font-size="4.62">2</tspan><tspan dy="-1.98"></tspan></text>
<text x="592.50" y="201.20" font-size="6.60" text-anchor="start" fill="#1e1e1e" stroke="#1e1e1e" stroke-width="0.18">+E<tspan dy="1.98" font-size="4.62">2</tspan><tspan dy="-1.98"></tspan></text>
<text x="503.20" y="230.90" font-size="6.60" text-anchor="middle" fill="#1e1e1e" stroke="#1e1e1e" stroke-width="0.18" transform="rotate(-90 503.20 230.90)">KDM4B normalized counts</text>
<text x="496.50" y="178.80" font-size="10.00" text-anchor="start" fill="#000" stroke="#000" stroke-width="0.35" font-weight="bold">i</text>
<line x1="210.70" y1="316.00" x2="210.70" y2="402.20" stroke="#7a7a7a" stroke-width="1.20"/>
<line x1="210.10" y1="402.20" x2="278.30" y2="402.20" stroke="#7a7a7a" stroke-width="1.20"/>
<line x1="208.70" y1="319.00" x2="210.70" y2="319.00" stroke="#444" stroke-width="0.90"/>
<text x="207.90" y="321.30" font-size="6.60" text-anchor="end" fill="#1e1e1e" stroke="#1e1e1e" stroke-width="0.18">100</text>
<line x1="208.70" y1="335.30" x2="210.70" y2="335.30" stroke="#444" stroke-width="0.90"/>
<text x="207.90" y="337.60" font-size="6.60" text-anchor="end" fill="#1e1e1e" stroke="#1e1e1e" stroke-width="0.18">80</text>
<line x1="208.70" y1="351.40" x2="210.70" y2="351.40" stroke="#444" stroke-width="0.90"/>
<text x="207.90" y="353.70" font-size="6.60" text-anchor="end" fill="#1e1e1e" stroke="#1e1e1e" stroke-width="0.18">60</text>
<line x1="208.70" y1="366.90" x2="210.70" y2="366.90" stroke="#444" stroke-width="0.90"/>
<text x="207.90" y="369.20" font-size="6.60" text-anchor="end" fill="#1e1e1e" stroke="#1e1e1e" stroke-width="0.18">40</text>
<line x1="208.70" y1="383.00" x2="210.70" y2="383.00" stroke="#444" stroke-width="0.90"/>
<text x="207.90" y="385.30" font-size="6.60" text-anchor="end" fill="#1e1e1e" stroke="#1e1e1e" stroke-width="0.18">20</text>
<line x1="208.70" y1="398.80" x2="210.70" y2="398.80" stroke="#444" stroke-width="0.90"/>
<text x="207.90" y="401.10" font-size="6.60" text-anchor="end" fill="#1e1e1e" stroke="#1e1e1e" stroke-width="0.18">0</text>
<polyline points="215.30,404.20 215.30,406.00 240.00,406.00 240.00,404.20" stroke="#555" stroke-width="0.90" fill="none"/>
<text x="227.65" y="414.30" font-size="6.60" text-anchor="middle" fill="#1e1e1e" stroke="#1e1e1e" stroke-width="0.18">PR</text>
<polyline points="249.50,404.20 249.50,406.00 274.00,406.00 274.00,404.20" stroke="#555" stroke-width="0.90" fill="none"/>
<text x="261.75" y="414.30" font-size="6.60" text-anchor="middle" fill="#1e1e1e" stroke="#1e1e1e" stroke-width="0.18">RSG</text>
<line x1="220.55" y1="332.40" x2="220.55" y2="362.90" stroke="#666" stroke-width="0.90"/>
<line x1="220.55" y1="381.80" x2="220.55" y2="396.90" stroke="#666" stroke-width="0.90"/>
<line x1="217.55" y1="332.40" x2="223.55" y2="332.40" stroke="#333" stroke-width="0.90"/>
<line x1="217.55" y1="396.90" x2="223.55" y2="396.90" stroke="#333" stroke-width="0.90"/>
<rect x="216.00" y="362.90" width="9.10" height="18.90" fill="#f51c0c" stroke="#1a1a1a" stroke-width="0.9"/>
<line x1="216.00" y1="372.90" x2="225.10" y2="372.90" stroke="#1a1a1a" stroke-width="1.00"/>
<line x1="220.55" y1="316.30" x2="220.55" y2="330.50" stroke="#111" stroke-width="1.3" stroke-dasharray="1.3 0.7"/>
<line x1="234.95" y1="316.10" x2="234.95" y2="348.20" stroke="#666" stroke-width="0.90"/>
<line x1="234.95" y1="378.20" x2="234.95" y2="396.20" stroke="#666" stroke-width="0.90"/>
<line x1="231.95" y1="316.10" x2="237.95" y2="316.10" stroke="#333" stroke-width="0.90"/>
<line x1="231.95" y1="396.20" x2="237.95" y2="396.20" stroke="#333" stroke-width="0.90"/>
<rect x="230.40" y="348.20" width="9.10" height="30.00" fill="#0f4df5" stroke="#1a1a1a" stroke-width="0.9"/>
<line x1="230.40" y1="366.90" x2="239.50" y2="366.90" stroke="#1a1a1a" stroke-width="1.00"/>
<line x1="254.55" y1="353.50" x2="254.55" y2="374.10" stroke="#666" stroke-width="0.90"/>
<line x1="254.55" y1="388.50" x2="254.55" y2="398.60" stroke="#666" stroke-width="0.90"/>
<line x1="251.55" y1="353.50" x2="257.55" y2="353.50" stroke="#333" stroke-width="0.90"/>
<line x1="251.55" y1="398.60" x2="257.55" y2="398.60" stroke="#333" stroke-width="0.90"/>
<rect x="250.00" y="374.10" width="9.10" height="14.40" fill="#f51c0c" stroke="#1a1a1a" stroke-width="0.9"/>
<line x1="250.00" y1="381.80" x2="259.10" y2="381.80" stroke="#1a1a1a" stroke-width="1.00"/>
<line x1="254.55" y1="321.00" x2="254.55" y2="342.80" stroke="#111" stroke-width="1.3" stroke-dasharray="1.3 0.7"/>
<line x1="269.55" y1="333.50" x2="269.55" y2="368.60" stroke="#666" stroke-width="0.90"/>
<line x1="269.55" y1="392.10" x2="269.55" y2="399.80" stroke="#666" stroke-width="0.90"/>
<line x1="266.55" y1="333.50" x2="272.55" y2="333.50" stroke="#333" stroke-width="0.90"/>
<line x1="266.55" y1="399.80" x2="272.55" y2="399.80" stroke="#333" stroke-width="0.90"/>
<rect x="265.10" y="368.60" width="8.90" height="23.50" fill="#0f4df5" stroke="#1a1a1a" stroke-width="0.9"/>
<line x1="265.10" y1="384.40" x2="274.00" y2="384.40" stroke="#1a1a1a" stroke-width="1.00"/>
<line x1="269.55" y1="316.30" x2="269.55" y2="329.60" stroke="#111" stroke-width="1.3" stroke-dasharray="1.3 0.7"/>
<polyline points="220.30,314.20 220.30,312.30 234.70,312.30 234.70,314.20" stroke="#333" stroke-width="0.90" fill="none"/>
<polyline points="254.30,314.20 254.30,312.30 269.20,312.30 269.20,314.20" stroke="#333" stroke-width="0.90" fill="none"/>
<text x="205.20" y="309.80" font-size="6.60" text-anchor="start" fill="#1e1e1e" stroke="#1e1e1e" stroke-width="0.18"><tspan font-style="italic">P</tspan> = 1.5 × 10<tspan dy="-2.51" font-size="4.62">−12</tspan><tspan dy="2.51"></tspan></text>
<text x="253.10" y="309.80" font-size="6.60" text-anchor="start" fill="#1e1e1e" stroke="#1e1e1e" stroke-width="0.18"><tspan font-style="italic">P</tspan> = 0.0008</text>
<rect x="280.70" y="322.60" width="4" height="3.8" fill="#f51c0c" stroke="#222" stroke-width="0.6"/>
<rect x="280.70" y="330.00" width="4" height="3.8" fill="#0f4df5" stroke="#222" stroke-width="0.6"/>
<text x="285.90" y="326.20" font-size="6.60" text-anchor="start" fill="#1e1e1e" stroke="#1e1e1e" stroke-width="0.18">−E<tspan dy="1.98" font-size="4.62">2</tspan><tspan dy="-1.98"></tspan></text>
<text x="285.90" y="333.60" font-size="6.60" text-anchor="start" fill="#1e1e1e" stroke="#1e1e1e" stroke-width="0.18">+E<tspan dy="1.98" font-size="4.62">2</tspan><tspan dy="-1.98"></tspan></text>
<text x="194.30" y="359.70" font-size="6.60" text-anchor="middle" fill="#1e1e1e" stroke="#1e1e1e" stroke-width="0.18" transform="rotate(-90 194.30 359.70)">KDM4C normalized counts</text>
<text x="188.00" y="301.70" font-size="10.00" text-anchor="start" fill="#000" stroke="#000" stroke-width="0.35" font-weight="bold">k</text>
<line x1="332.30" y1="318.00" x2="332.30" y2="403.20" stroke="#7a7a7a" stroke-width="1.20"/>
<line x1="331.70" y1="403.20" x2="399.50" y2="403.20" stroke="#7a7a7a" stroke-width="1.20"/>
<line x1="330.30" y1="321.10" x2="332.30" y2="321.10" stroke="#444" stroke-width="0.90"/>
<text x="329.50" y="323.40" font-size="6.60" text-anchor="end" fill="#1e1e1e" stroke="#1e1e1e" stroke-width="0.18">100</text>
<line x1="330.30" y1="336.80" x2="332.30" y2="336.80" stroke="#444" stroke-width="0.90"/>
<text x="329.50" y="339.10" font-size="6.60" text-anchor="end" fill="#1e1e1e" stroke="#1e1e1e" stroke-width="0.18">80</text>
<line x1="330.30" y1="352.70" x2="332.30" y2="352.70" stroke="#444" stroke-width="0.90"/>
<text x="329.50" y="355.00" font-size="6.60" text-anchor="end" fill="#1e1e1e" stroke="#1e1e1e" stroke-width="0.18">60</text>
<line x1="330.30" y1="368.40" x2="332.30" y2="368.40" stroke="#444" stroke-width="0.90"/>
<text x="329.50" y="370.70" font-size="6.60" text-anchor="end" fill="#1e1e1e" stroke="#1e1e1e" stroke-width="0.18">40</text>
<line x1="330.30" y1="384.00" x2="332.30" y2="384.00" stroke="#444" stroke-width="0.90"/>
<text x="329.50" y="386.30" font-size="6.60" text-anchor="end" fill="#1e1e1e" stroke="#1e1e1e" stroke-width="0.18">20</text>
<line x1="330.30" y1="400.00" x2="332.30" y2="400.00" stroke="#444" stroke-width="0.90"/>
<text x="329.50" y="402.30" font-size="6.60" text-anchor="end" fill="#1e1e1e" stroke="#1e1e1e" stroke-width="0.18">0</text>
<polyline points="336.60,405.10 336.60,406.90 361.70,406.90 361.70,405.10" stroke="#555" stroke-width="0.90" fill="none"/>
<text x="349.15" y="414.70" font-size="6.60" text-anchor="middle" fill="#1e1e1e" stroke="#1e1e1e" stroke-width="0.18">PR</text>
<polyline points="370.90,405.10 370.90,406.90 395.80,406.90 395.80,405.10" stroke="#555" stroke-width="0.90" fill="none"/>
<text x="383.35" y="414.70" font-size="6.60" text-anchor="middle" fill="#1e1e1e" stroke="#1e1e1e" stroke-width="0.18">RSG</text>
<line x1="341.90" y1="353.20" x2="341.90" y2="377.10" stroke="#666" stroke-width="0.90"/>
<line x1="341.90" y1="394.50" x2="341.90" y2="400.00" stroke="#666" stroke-width="0.90"/>
<line x1="339.00" y1="353.20" x2="344.80" y2="353.20" stroke="#333" stroke-width="0.90"/>
<line x1="339.00" y1="400.00" x2="344.80" y2="400.00" stroke="#333" stroke-width="0.90"/>
<rect x="337.30" y="377.10" width="9.20" height="17.40" fill="#f51c0c" stroke="#1a1a1a" stroke-width="0.9"/>
<line x1="337.30" y1="388.30" x2="346.50" y2="388.30" stroke="#1a1a1a" stroke-width="1.00"/>
<circle cx="341.90" cy="319.20" r="0.7" fill="#111"/>
<circle cx="341.90" cy="324.90" r="0.7" fill="#111"/>
<circle cx="341.90" cy="330.80" r="0.7" fill="#111"/>
<circle cx="341.90" cy="336.50" r="0.7" fill="#111"/>
<circle cx="341.90" cy="342.30" r="0.7" fill="#111"/>
<circle cx="341.90" cy="348.00" r="0.7" fill="#111"/>
<line x1="356.25" y1="363.30" x2="356.25" y2="385.30" stroke="#666" stroke-width="0.90"/>
<line x1="356.25" y1="400.00" x2="356.25" y2="400.00" stroke="#666" stroke-width="0.90"/>
<line x1="353.35" y1="363.30" x2="359.15" y2="363.30" stroke="#333" stroke-width="0.90"/>
<line x1="353.35" y1="400.00" x2="359.15" y2="400.00" stroke="#333" stroke-width="0.90"/>
<rect x="351.50" y="385.30" width="9.50" height="14.70" fill="#0f4df5" stroke="#1a1a1a" stroke-width="0.9"/>
<line x1="351.50" y1="392.00" x2="361.00" y2="392.00" stroke="#1a1a1a" stroke-width="1.00"/>
<circle cx="356.25" cy="319.20" r="0.7" fill="#111"/>
<circle cx="356.25" cy="326.50" r="0.7" fill="#111"/>
<circle cx="356.25" cy="334.10" r="0.7" fill="#111"/>
<circle cx="356.25" cy="341.50" r="0.7" fill="#111"/>
<circle cx="356.25" cy="348.90" r="0.7" fill="#111"/>
<circle cx="356.25" cy="356.20" r="0.7" fill="#111"/>
<line x1="376.20" y1="347.40" x2="376.20" y2="371.30" stroke="#666" stroke-width="0.90"/>
<line x1="376.20" y1="388.30" x2="376.20" y2="400.00" stroke="#666" stroke-width="0.90"/>
<line x1="373.30" y1="347.40" x2="379.10" y2="347.40" stroke="#333" stroke-width="0.90"/>
<line x1="373.30" y1="400.00" x2="379.10" y2="400.00" stroke="#333" stroke-width="0.90"/>
<rect x="371.60" y="371.30" width="9.20" height="17.00" fill="#f51c0c" stroke="#1a1a1a" stroke-width="0.9"/>
<line x1="371.60" y1="382.00" x2="380.80" y2="382.00" stroke="#1a1a1a" stroke-width="1.00"/>
<circle cx="376.20" cy="318.70" r="0.7" fill="#111"/>
<circle cx="376.20" cy="324.70" r="0.7" fill="#111"/>
<circle cx="376.20" cy="330.60" r="0.7" fill="#111"/>
<circle cx="376.20" cy="336.50" r="0.7" fill="#111"/>
<circle cx="376.20" cy="342.30" r="0.7" fill="#111"/>
<line x1="391.05" y1="341.30" x2="391.05" y2="370.80" stroke="#666" stroke-width="0.90"/>
<line x1="391.05" y1="392.50" x2="391.05" y2="400.00" stroke="#666" stroke-width="0.90"/>
<line x1="388.15" y1="341.30" x2="393.95" y2="341.30" stroke="#333" stroke-width="0.90"/>
<line x1="388.15" y1="400.00" x2="393.95" y2="400.00" stroke="#333" stroke-width="0.90"/>
<rect x="386.30" y="370.80" width="9.50" height="21.70" fill="#0f4df5" stroke="#1a1a1a" stroke-width="0.9"/>
<line x1="386.30" y1="385.00" x2="395.80" y2="385.00" stroke="#1a1a1a" stroke-width="1.00"/>
<circle cx="391.05" cy="319.50" r="0.7" fill="#111"/>
<circle cx="391.05" cy="326.80" r="0.7" fill="#111"/>
<circle cx="391.05" cy="333.90" r="0.7" fill="#111"/>
<polyline points="341.00,315.50 341.00,313.60 356.70,313.60 356.70,315.50" stroke="#333" stroke-width="0.90" fill="none"/>
<polyline points="375.90,315.50 375.90,313.60 390.80,313.60 390.80,315.50" stroke="#333" stroke-width="0.90" fill="none"/>
<polyline points="356.00,305.60 356.00,303.70 390.80,303.70 390.80,305.60" stroke="#333" stroke-width="0.90" fill="none"/>
<text x="323.60" y="311.50" font-size="6.60" text-anchor="start" fill="#1e1e1e" stroke="#1e1e1e" stroke-width="0.18"><tspan font-style="italic">P</tspan> = 1.6 × 10<tspan dy="-2.51" font-size="4.62">−24</tspan><tspan dy="2.51"></tspan></text>
<text x="374.10" y="311.50" font-size="6.60" text-anchor="start" fill="#1e1e1e" stroke="#1e1e1e" stroke-width="0.18"><tspan font-style="italic">P</tspan> = 9.4 × 10<tspan dy="-2.51" font-size="4.62">−6</tspan><tspan dy="2.51"></tspan></text>
<text x="352.70" y="302.30" font-size="6.60" text-anchor="start" fill="#1e1e1e" stroke="#1e1e1e" stroke-width="0.18"><tspan font-style="italic">P</tspan> = 2.4 × 10<tspan dy="-2.51" font-size="4.62">−18</tspan><tspan dy="2.51"></tspan></text>
<rect x="402.00" y="322.30" width="4" height="3.8" fill="#f51c0c" stroke="#222" stroke-width="0.6"/>
<rect x="402.00" y="329.70" width="4" height="3.8" fill="#0f4df5" stroke="#222" stroke-width="0.6"/>
<text x="407.20" y="325.90" font-size="6.60" text-anchor="start" fill="#1e1e1e" stroke="#1e1e1e" stroke-width="0.18">−E<tspan dy="1.98" font-size="4.62">2</tspan><tspan dy="-1.98"></tspan></text>
<text x="407.20" y="333.30" font-size="6.60" text-anchor="start" fill="#1e1e1e" stroke="#1e1e1e" stroke-width="0.18">+E<tspan dy="1.98" font-size="4.62">2</tspan><tspan dy="-1.98"></tspan></text>
<text x="314.60" y="360.90" font-size="6.60" text-anchor="middle" fill="#1e1e1e" stroke="#1e1e1e" stroke-width="0.18" transform="rotate(-90 314.60 360.90)">H3K9me3 normalized counts</text>
<text x="310.80" y="301.30" font-size="10.00" text-anchor="start" fill="#000" stroke="#000" stroke-width="0.35" font-weight="bold">l</text>
<line x1="392.40" y1="183.50" x2="392.40" y2="266.10" stroke="#333" stroke-width="0.90"/>
<line x1="392.40" y1="265.60" x2="476.80" y2="265.60" stroke="#333" stroke-width="0.90"/>
<line x1="390.40" y1="184.00" x2="392.40" y2="184.00" stroke="#333" stroke-width="0.80"/>
<text x="389.80" y="186.30" font-size="6.60" text-anchor="end" fill="#1e1e1e" stroke="#1e1e1e" stroke-width="0.18">1.4</text>
<line x1="390.40" y1="200.50" x2="392.40" y2="200.50" stroke="#333" stroke-width="0.80"/>
<text x="389.80" y="202.80" font-size="6.60" text-anchor="end" fill="#1e1e1e" stroke="#1e1e1e" stroke-width="0.18">1.2</text>
<line x1="390.40" y1="216.80" x2="392.40" y2="216.80" stroke="#333" stroke-width="0.80"/>
<text x="389.80" y="219.10" font-size="6.60" text-anchor="end" fill="#1e1e1e" stroke="#1e1e1e" stroke-width="0.18">1.0</text>
<line x1="390.40" y1="233.20" x2="392.40" y2="233.20" stroke="#333" stroke-width="0.80"/>
<text x="389.80" y="235.50" font-size="6.60" text-anchor="end" fill="#1e1e1e" stroke="#1e1e1e" stroke-width="0.18">0.8</text>
<line x1="390.40" y1="249.50" x2="392.40" y2="249.50" stroke="#333" stroke-width="0.80"/>
<text x="389.80" y="251.80" font-size="6.60" text-anchor="end" fill="#1e1e1e" stroke="#1e1e1e" stroke-width="0.18">0.6</text>
<line x1="390.40" y1="265.50" x2="392.40" y2="265.50" stroke="#333" stroke-width="0.80"/>
<text x="389.80" y="267.80" font-size="6.60" text-anchor="end" fill="#1e1e1e" stroke="#1e1e1e" stroke-width="0.18">0.4</text>
<line x1="392.40" y1="265.60" x2="392.40" y2="267.80" stroke="#333" stroke-width="0.80"/>
<text x="392.40" y="274.70" font-size="6.60" text-anchor="middle" fill="#1e1e1e" stroke="#1e1e1e" stroke-width="0.18">−3,000</text>
<line x1="434.80" y1="265.60" x2="434.80" y2="267.80" stroke="#333" stroke-width="0.80"/>
<text x="434.80" y="274.70" font-size="6.60" text-anchor="middle" fill="#1e1e1e" stroke="#1e1e1e" stroke-width="0.18">0</text>
<line x1="476.80" y1="265.60" x2="476.80" y2="267.80" stroke="#333" stroke-width="0.80"/>
<text x="476.80" y="274.70" font-size="6.60" text-anchor="middle" fill="#1e1e1e" stroke="#1e1e1e" stroke-width="0.18">+3,000</text>
<text x="387.90" y="284.50" font-size="6.60" text-anchor="start" fill="#1e1e1e" stroke="#1e1e1e" stroke-width="0.18">Distance to the TSS of PR genes</text>
<text x="376.40" y="229.70" font-size="6.60" text-anchor="middle" fill="#1e1e1e" stroke="#1e1e1e" stroke-width="0.18" transform="rotate(-90 376.40 229.70)">KDM4B tag density</text>
<path d="M392.60 258.20 L393.34 257.75 L394.08 258.27 L394.82 258.08 L395.56 257.50 L396.30 257.60 L397.04 257.43 L397.78 257.50 L398.52 257.50 L399.26 256.75 L400.00 256.58 L400.71 257.12 L401.43 256.58 L402.14 256.70 L402.86 255.84 L403.57 256.06 L404.29 256.13 L405.00 255.51 L405.71 255.97 L406.43 255.75 L407.14 254.79 L407.86 254.61 L408.57 254.89 L409.29 255.07 L410.00 254.39 L410.71 254.03 L411.43 254.00 L412.14 253.43 L412.86 253.39 L413.57 253.37 L414.29 253.21 L415.00 252.76 L415.71 252.40 L416.43 252.03 L417.14 251.89 L417.86 251.38 L418.57 250.78 L419.29 251.16 L420.00 250.55 L420.75 249.63 L421.50 248.22 L422.25 247.94 L423.00 246.82 L423.70 245.01 L424.40 244.05 L425.10 243.25 L425.80 242.09 L426.58 240.73 L427.36 238.71 L428.14 237.52 L428.92 235.81 L429.70 233.92 L430.43 232.95 L431.15 231.99 L431.88 230.74 L432.60 229.20 L433.60 225.98 L434.60 222.18 L436.00 220.67 L436.75 220.32 L437.50 219.12 L438.25 221.96 L439.00 225.34 L439.75 228.33 L440.50 231.16 L441.25 233.64 L442.00 236.45 L442.77 238.41 L443.53 240.55 L444.30 242.22 L445.10 243.37 L445.90 244.72 L446.70 245.58 L447.52 246.29 L448.35 247.58 L449.18 248.53 L450.00 248.88 L450.71 249.09 L451.43 249.27 L452.14 249.96 L452.86 250.78 L453.57 250.97 L454.29 251.15 L455.00 251.82 L455.76 251.62 L456.51 252.23 L457.27 252.98 L458.03 253.00 L458.79 253.25 L459.54 253.44 L460.30 254.04 L461.07 254.61 L461.84 253.96 L462.61 254.86 L463.38 255.09 L464.15 255.35 L464.92 255.42 L465.69 255.68 L466.46 255.62 L467.23 255.86 L468.00 255.93 L468.72 255.77 L469.43 256.67 L470.15 256.56 L470.87 256.40 L471.58 256.84 L472.30 256.99 L473.02 257.04 L473.73 257.19 L474.45 257.53 L475.17 257.78 L475.88 257.93 L476.60 258.00" stroke="#f23b2c" stroke-width="1.25" fill="none" stroke-linejoin="round"/>
<path d="M392.60 258.60 L393.34 258.90 L394.08 258.78 L394.82 257.87 L395.56 257.79 L396.30 258.35 L397.04 258.15 L397.78 257.98 L398.52 257.55 L399.26 257.71 L400.00 257.60 L400.71 257.42 L401.43 256.88 L402.14 256.97 L402.86 256.78 L403.57 256.91 L404.29 257.00 L405.00 256.80 L405.71 256.28 L406.43 256.04 L407.14 255.72 L407.86 255.35 L408.57 255.19 L409.29 255.43 L410.00 255.14 L410.75 254.98 L411.50 255.23 L412.25 254.69 L413.00 254.50 L413.75 254.00 L414.50 253.60 L415.25 253.66 L416.00 253.27 L416.70 253.28 L417.40 253.40 L418.10 252.78 L418.80 252.01 L419.85 251.30 L420.90 249.87 L421.75 248.11 L422.60 246.57 L423.45 244.74 L424.30 243.06 L425.15 240.97 L426.00 239.83 L426.85 238.12 L427.70 235.70 L428.55 232.23 L429.40 228.19 L430.25 223.67 L431.10 219.43 L432.05 214.94 L433.00 210.88 L434.20 204.50 L435.00 201.70 L435.80 203.87 L436.80 208.84 L437.65 212.36 L438.50 215.46 L439.25 219.06 L440.00 222.88 L441.40 229.40 L442.10 232.34 L442.80 235.25 L443.55 238.39 L444.30 241.78 L445.10 242.60 L445.90 244.57 L446.70 245.29 L447.53 246.90 L448.37 247.40 L449.20 249.01 L449.98 249.24 L450.77 249.50 L451.55 249.97 L452.33 250.54 L453.12 250.93 L453.90 251.13 L454.66 251.37 L455.42 251.99 L456.19 252.70 L456.95 252.76 L457.71 252.61 L458.48 253.61 L459.24 253.87 L460.00 254.37 L460.73 253.95 L461.45 254.67 L462.18 254.28 L462.91 255.05 L463.64 254.93 L464.36 255.12 L465.09 255.93 L465.82 255.46 L466.55 256.07 L467.27 256.59 L468.00 256.27 L468.72 256.41 L469.43 257.18 L470.15 256.93 L470.87 257.36 L471.58 256.91 L472.30 257.38 L473.02 257.37 L473.73 257.99 L474.45 257.62 L475.17 258.58 L475.88 257.91 L476.60 258.50" stroke="#2f5cf0" stroke-width="1.25" fill="none" stroke-linejoin="round"/>
<text x="459.00" y="193.80" font-size="6.60" text-anchor="start" fill="#f23b2c" stroke="#f23b2c" stroke-width="0.18">−E<tspan dy="1.98" font-size="4.62">2</tspan><tspan dy="-1.98"></tspan></text>
<text x="459.00" y="202.20" font-size="6.60" text-anchor="start" fill="#2f5cf0" stroke="#2f5cf0" stroke-width="0.18">+E<tspan dy="1.98" font-size="4.62">2</tspan><tspan dy="-1.98"></tspan></text>
<text x="369.80" y="178.60" font-size="10.00" text-anchor="start" fill="#000" stroke="#000" stroke-width="0.35" font-weight="bold">h</text>
<line x1="88.40" y1="316.20" x2="88.40" y2="398.20" stroke="#333" stroke-width="0.90"/>
<line x1="88.40" y1="397.70" x2="173.60" y2="397.70" stroke="#333" stroke-width="0.90"/>
<line x1="86.40" y1="316.40" x2="88.40" y2="316.40" stroke="#333" stroke-width="0.80"/>
<text x="85.80" y="318.70" font-size="6.60" text-anchor="end" fill="#1e1e1e" stroke="#1e1e1e" stroke-width="0.18">3.0</text>
<line x1="86.40" y1="329.90" x2="88.40" y2="329.90" stroke="#333" stroke-width="0.80"/>
<text x="85.80" y="332.20" font-size="6.60" text-anchor="end" fill="#1e1e1e" stroke="#1e1e1e" stroke-width="0.18">2.5</text>
<line x1="86.40" y1="343.40" x2="88.40" y2="343.40" stroke="#333" stroke-width="0.80"/>
<text x="85.80" y="345.70" font-size="6.60" text-anchor="end" fill="#1e1e1e" stroke="#1e1e1e" stroke-width="0.18">2.0</text>
<line x1="86.40" y1="357.00" x2="88.40" y2="357.00" stroke="#333" stroke-width="0.80"/>
<text x="85.80" y="359.30" font-size="6.60" text-anchor="end" fill="#1e1e1e" stroke="#1e1e1e" stroke-width="0.18">1.5</text>
<line x1="86.40" y1="370.60" x2="88.40" y2="370.60" stroke="#333" stroke-width="0.80"/>
<text x="85.80" y="372.90" font-size="6.60" text-anchor="end" fill="#1e1e1e" stroke="#1e1e1e" stroke-width="0.18">1.0</text>
<line x1="86.40" y1="384.20" x2="88.40" y2="384.20" stroke="#333" stroke-width="0.80"/>
<text x="85.80" y="386.50" font-size="6.60" text-anchor="end" fill="#1e1e1e" stroke="#1e1e1e" stroke-width="0.18">0.5</text>
<line x1="86.40" y1="397.60" x2="88.40" y2="397.60" stroke="#333" stroke-width="0.80"/>
<text x="85.80" y="399.90" font-size="6.60" text-anchor="end" fill="#1e1e1e" stroke="#1e1e1e" stroke-width="0.18">0</text>
<line x1="88.40" y1="397.70" x2="88.40" y2="399.90" stroke="#333" stroke-width="0.80"/>
<text x="88.40" y="406.80" font-size="6.60" text-anchor="middle" fill="#1e1e1e" stroke="#1e1e1e" stroke-width="0.18">−3,000</text>
<line x1="131.20" y1="397.70" x2="131.20" y2="399.90" stroke="#333" stroke-width="0.80"/>
<text x="131.20" y="406.80" font-size="6.60" text-anchor="middle" fill="#1e1e1e" stroke="#1e1e1e" stroke-width="0.18">0</text>
<line x1="173.60" y1="397.70" x2="173.60" y2="399.90" stroke="#333" stroke-width="0.80"/>
<text x="173.60" y="406.80" font-size="6.60" text-anchor="middle" fill="#1e1e1e" stroke="#1e1e1e" stroke-width="0.18">+3,000</text>
<text x="82.20" y="418.00" font-size="6.60" text-anchor="start" fill="#1e1e1e" stroke="#1e1e1e" stroke-width="0.18">Distance to the TSS of PR genes</text>
<text x="71.60" y="359.30" font-size="6.60" text-anchor="middle" fill="#1e1e1e" stroke="#1e1e1e" stroke-width="0.18" transform="rotate(-90 71.60 359.30)">KDM4C tag density</text>
<path d="M88.60 385.80 L89.31 385.69 L90.02 385.85 L90.74 385.81 L91.45 385.67 L92.16 385.71 L92.88 385.68 L93.59 385.71 L94.30 385.72 L95.01 385.53 L95.72 385.50 L96.44 385.67 L97.15 385.56 L97.86 385.62 L98.58 385.42 L99.29 385.51 L100.00 385.55 L100.72 385.41 L101.45 385.56 L102.17 385.52 L102.90 385.29 L103.62 385.26 L104.35 385.36 L105.08 385.43 L105.80 385.27 L106.52 385.21 L107.25 385.23 L107.97 385.11 L108.70 385.13 L109.42 385.16 L110.15 385.15 L110.88 385.06 L111.60 385.04 L112.34 384.93 L113.08 384.89 L113.82 384.75 L114.55 384.59 L115.29 384.68 L116.03 384.51 L116.77 384.43 L117.51 384.22 L118.25 384.32 L118.98 384.19 L119.72 383.91 L120.46 383.86 L121.20 383.85 L122.00 383.27 L122.80 382.74 L123.60 382.03 L124.40 381.55 L125.20 380.92 L126.00 380.25 L126.80 377.65 L127.60 375.06 L128.40 372.38 L129.30 365.00 L130.00 359.82 L130.80 361.89 L131.60 367.44 L132.70 377.17 L133.42 378.28 L134.15 379.42 L134.88 380.71 L135.60 381.95 L136.30 382.21 L137.00 382.40 L137.70 382.69 L138.40 382.97 L139.10 383.30 L139.80 383.51 L140.50 383.74 L141.20 384.03 L141.90 384.19 L142.65 384.22 L143.39 384.42 L144.14 384.52 L144.89 384.46 L145.63 384.44 L146.38 384.42 L147.13 384.53 L147.87 384.68 L148.62 384.66 L149.37 384.64 L150.11 384.75 L150.86 384.64 L151.61 384.74 L152.35 384.88 L153.10 384.82 L153.81 384.84 L154.51 384.84 L155.22 384.96 L155.93 385.11 L156.64 384.93 L157.34 385.17 L158.05 385.23 L158.76 385.29 L159.46 385.31 L160.17 385.37 L160.88 385.35 L161.59 385.41 L162.29 385.43 L163.00 385.39 L163.74 385.62 L164.49 385.57 L165.23 385.51 L165.97 385.62 L166.71 385.64 L167.46 385.64 L168.20 385.66 L168.94 385.74 L169.69 385.79 L170.43 385.81 L171.17 385.80 L171.91 385.73 L172.66 385.81 L173.40 385.90" stroke="#f23b2c" stroke-width="1.25" fill="none" stroke-linejoin="round"/>
<path d="M88.60 387.00 L89.31 387.07 L90.02 387.02 L90.74 386.76 L91.45 386.73 L92.16 386.86 L92.88 386.79 L93.59 386.73 L94.30 386.60 L95.01 386.63 L95.72 386.59 L96.44 386.54 L97.15 386.39 L97.86 386.41 L98.58 386.36 L99.29 386.40 L100.00 386.42 L100.72 386.35 L101.45 386.20 L102.17 386.12 L102.90 386.02 L103.62 385.91 L104.35 385.85 L105.08 385.90 L105.80 385.81 L106.52 385.76 L107.25 385.83 L107.97 385.69 L108.70 385.64 L109.42 385.51 L110.15 385.40 L110.88 385.41 L111.60 385.31 L112.31 385.22 L113.02 385.16 L113.73 384.91 L114.44 384.61 L115.16 384.61 L115.87 384.40 L116.58 384.21 L117.29 384.08 L118.00 383.86 L118.80 383.15 L119.60 382.33 L120.40 381.77 L121.20 381.04 L122.00 380.14 L122.80 379.56 L123.60 377.35 L124.40 375.09 L125.20 372.91 L126.00 370.70 L126.95 362.05 L127.90 353.20 L128.90 340.08 L129.60 332.56 L130.40 337.09 L131.20 346.90 L132.20 355.54 L133.20 364.32 L134.10 367.75 L135.00 371.05 L135.73 372.50 L136.47 373.93 L137.20 375.46 L137.90 376.23 L138.60 376.78 L139.30 377.63 L140.00 378.16 L140.70 378.99 L141.40 379.52 L142.10 380.35 L142.80 380.97 L143.50 381.60 L144.24 381.87 L144.98 382.17 L145.72 382.43 L146.45 382.63 L147.19 382.88 L147.93 383.22 L148.67 383.59 L149.41 383.78 L150.15 383.92 L150.88 384.37 L151.62 384.62 L152.36 384.93 L153.10 385.03 L153.81 385.26 L154.51 385.19 L155.22 385.44 L155.93 385.45 L156.64 385.53 L157.34 385.79 L158.05 385.71 L158.76 385.91 L159.46 386.08 L160.17 386.04 L160.88 386.13 L161.59 386.39 L162.29 386.38 L163.00 386.55 L163.74 386.44 L164.49 386.57 L165.23 386.57 L165.97 386.74 L166.71 386.65 L167.46 386.91 L168.20 386.74 L168.94 386.96 L169.69 386.84 L170.43 386.94 L171.17 387.13 L171.91 387.02 L172.66 387.07 L173.40 387.20" stroke="#2f5cf0" stroke-width="1.25" fill="none" stroke-linejoin="round"/>
<text x="155.50" y="326.40" font-size="6.60" text-anchor="start" fill="#f23b2c" stroke="#f23b2c" stroke-width="0.18">−E<tspan dy="1.98" font-size="4.62">2</tspan><tspan dy="-1.98"></tspan></text>
<text x="155.50" y="334.80" font-size="6.60" text-anchor="start" fill="#2f5cf0" stroke="#2f5cf0" stroke-width="0.18">+E<tspan dy="1.98" font-size="4.62">2</tspan><tspan dy="-1.98"></tspan></text>
<text x="69.00" y="300.30" font-size="10.00" text-anchor="start" fill="#000" stroke="#000" stroke-width="0.35" font-weight="bold">j</text>
<text x="425.20" y="300.20" font-size="10.00" text-anchor="start" fill="#000" stroke="#000" stroke-width="0.35" font-weight="bold">m</text>
<text x="434.20" y="310.20" font-size="6.60" text-anchor="start" fill="#1e1e1e" stroke="#1e1e1e" stroke-width="0.18">Chr21</text>
<text x="453.60" y="311.60" font-size="6.60" text-anchor="start" fill="#1e1e1e" stroke="#1e1e1e" stroke-width="0.18">10 kb</text>
<line x1="474.20" y1="309.20" x2="562.70" y2="309.20" stroke="#222" stroke-width="0.90"/>
<line x1="474.20" y1="307.40" x2="474.20" y2="311.00" stroke="#222" stroke-width="0.90"/>
<line x1="562.70" y1="307.40" x2="562.70" y2="311.00" stroke="#222" stroke-width="0.90"/>
<text x="563.40" y="311.60" font-size="6.60" text-anchor="start" fill="#1e1e1e" stroke="#1e1e1e" stroke-width="0.18">hg38</text>
<text x="475.20" y="321.30" font-size="6.00" text-anchor="start" fill="#1e1e1e" stroke="#1e1e1e" stroke-width="0.18">42,365,000</text>
<line x1="505.20" y1="317.20" x2="505.20" y2="320.60" stroke="#333" stroke-width="0.70"/>
<text x="516.90" y="321.30" font-size="6.00" text-anchor="start" fill="#1e1e1e" stroke="#1e1e1e" stroke-width="0.18">42,370,000</text>
<line x1="549.30" y1="317.20" x2="549.30" y2="320.60" stroke="#333" stroke-width="0.70"/>
<line x1="473.40" y1="327.90" x2="473.40" y2="350.20" stroke="#333" stroke-width="0.90"/>
<line x1="471.40" y1="328.40" x2="473.40" y2="328.40" stroke="#333" stroke-width="0.80"/>
<line x1="471.40" y1="350.20" x2="473.40" y2="350.20" stroke="#333" stroke-width="0.80"/>
<text x="470.80" y="330.70" font-size="6.60" text-anchor="end" fill="#1e1e1e" stroke="#1e1e1e" stroke-width="0.18">10</text>
<text x="470.80" y="352.50" font-size="6.60" text-anchor="end" fill="#1e1e1e" stroke="#1e1e1e" stroke-width="0.18">0</text>
<text x="434.20" y="341.30" font-size="6.60" text-anchor="start" fill="#1e1e1e" stroke="#1e1e1e" stroke-width="0.18">H3K9me3</text>
<path d="M474 350.20 L474 350.08 L475 350.08 L475 349.52 L476 349.52 L476 349.23 L477 349.23 L477 347.90 L478 347.90 L478 349.69 L479 349.69 L479 349.22 L480 349.22 L480 348.95 L481 348.95 L481 348.60 L482 348.60 L482 347.67 L483 347.67 L483 348.16 L484 348.16 L484 349.83 L485 349.83 L485 348.11 L486 348.11 L486 348.43 L487 348.43 L487 349.92 L488 349.92 L488 347.57 L489 347.57 L489 348.59 L490 348.59 L490 349.40 L491 349.40 L491 350.20 L492 350.20 L492 350.20 L493 350.20 L493 350.20 L494 350.20 L494 349.52 L495 349.52 L495 347.87 L496 347.87 L496 349.59 L497 349.59 L497 350.20 L498 350.20 L498 350.20 L499 350.20 L499 350.20 L500 350.20 L500 350.20 L501 350.20 L501 350.20 L502 350.20 L502 349.36 L503 349.36 L503 348.77 L504 348.77 L504 349.28 L505 349.28 L505 349.14 L506 349.14 L506 348.20 L507 348.20 L507 347.88 L508 347.88 L508 346.67 L509 346.67 L509 349.51 L510 349.51 L510 347.46 L511 347.46 L511 347.50 L512 347.50 L512 349.32 L513 349.32 L513 348.87 L514 348.87 L514 348.53 L515 348.53 L515 347.04 L516 347.04 L516 348.46 L517 348.46 L517 347.70 L518 347.70 L518 346.20 L519 346.20 L519 344.70 L520 344.70 L520 343.70 L521 343.70 L521 343.60 L522 343.60 L522 344.70 L523 344.70 L523 346.20 L524 346.20 L524 347.70 L525 347.70 L525 347.98 L526 347.98 L526 348.95 L527 348.95 L527 349.61 L528 349.61 L528 349.34 L529 349.34 L529 348.98 L530 348.98 L530 349.27 L531 349.27 L531 349.34 L532 349.34 L532 350.03 L533 350.03 L533 348.94 L534 348.94 L534 349.31 L535 349.31 L535 350.20 L536 350.20 L536 350.20 L537 350.20 L537 349.86 L538 349.86 L538 349.54 L539 349.54 L539 350.20 L540 350.20 L540 350.20 L541 350.20 L541 350.20 L542 350.20 L542 350.20 L543 350.20 L543 350.20 L544 350.20 L544 350.14 L545 350.14 L545 349.24 L546 349.24 L546 349.07 L547 349.07 L547 349.97 L548 349.97 L548 350.20 L549 350.20 L549 350.20 L550 350.20 L550 349.26 L551 349.26 L551 349.12 L552 349.12 L552 348.91 L553 348.91 L553 348.46 L554 348.46 L554 349.86 L555 349.86 L555 350.20 L556 350.20 L556 350.20 L557 350.20 L557 350.20 L558 350.20 L558 350.20 L559 350.20 L559 349.56 L560 349.56 L560 349.82 L561 349.82 L561 350.20 L562 350.20 L562 350.20 L563 350.20 L563 350.20 Z" fill="#ff3a3a" opacity="0.62"/>
<path d="M474 350.20 L474 347.17 L475 347.17 L475 349.27 L476 349.27 L476 348.26 L477 348.26 L477 350.13 L478 350.13 L478 350.20 L479 350.20 L479 349.32 L480 349.32 L480 347.90 L481 347.90 L481 348.07 L482 348.07 L482 349.57 L483 349.57 L483 350.11 L484 350.11 L484 347.70 L485 347.70 L485 348.72 L486 348.72 L486 348.69 L487 348.69 L487 349.01 L488 349.01 L488 348.30 L489 348.30 L489 349.13 L490 349.13 L490 349.73 L491 349.73 L491 348.25 L492 348.25 L492 350.20 L493 350.20 L493 349.70 L494 349.70 L494 349.76 L495 349.76 L495 349.10 L496 349.10 L496 347.22 L497 347.22 L497 348.39 L498 348.39 L498 350.20 L499 350.20 L499 350.20 L500 350.20 L500 350.20 L501 350.20 L501 350.20 L502 350.20 L502 348.91 L503 348.91 L503 348.86 L504 348.86 L504 348.23 L505 348.23 L505 348.49 L506 348.49 L506 350.20 L507 350.20 L507 350.20 L508 350.20 L508 348.89 L509 348.89 L509 348.72 L510 348.72 L510 349.00 L511 349.00 L511 348.97 L512 348.97 L512 349.31 L513 349.31 L513 348.28 L514 348.28 L514 349.01 L515 349.01 L515 350.20 L516 350.20 L516 348.70 L517 348.70 L517 347.20 L518 347.20 L518 347.20 L519 347.20 L519 348.70 L520 348.70 L520 349.70 L521 349.70 L521 349.75 L522 349.75 L522 347.54 L523 347.54 L523 348.07 L524 348.07 L524 349.71 L525 349.71 L525 350.20 L526 350.20 L526 350.20 L527 350.20 L527 348.81 L528 348.81 L528 349.11 L529 349.11 L529 350.20 L530 350.20 L530 350.20 L531 350.20 L531 350.20 L532 350.20 L532 350.20 L533 350.20 L533 350.20 L534 350.20 L534 349.74 L535 349.74 L535 349.03 L536 349.03 L536 349.70 L537 349.70 L537 348.91 L538 348.91 L538 349.36 L539 349.36 L539 347.89 L540 347.89 L540 347.81 L541 347.81 L541 350.20 L542 350.20 L542 350.20 L543 350.20 L543 350.20 L544 350.20 L544 350.20 L545 350.20 L545 350.20 L546 350.20 L546 350.20 L547 350.20 L547 348.78 L548 348.78 L548 348.79 L549 348.79 L549 348.71 L550 348.71 L550 349.30 L551 349.30 L551 347.96 L552 347.96 L552 348.84 L553 348.84 L553 350.20 L554 350.20 L554 350.20 L555 350.20 L555 350.20 L556 350.20 L556 350.20 L557 350.20 L557 349.01 L558 349.01 L558 348.30 L559 348.30 L559 347.83 L560 347.83 L560 349.54 L561 349.54 L561 350.20 L562 350.20 L562 350.20 L563 350.20 L563 350.20 Z" fill="#3a3aff" opacity="0.55"/>
<line x1="473.40" y1="350.20" x2="563.50" y2="350.20" stroke="#7070c0" stroke-width="0.80"/>
<text x="564.20" y="330.10" font-size="6.60" text-anchor="start" fill="#f07a7a" stroke="#f07a7a" stroke-width="0.18">−E<tspan dy="1.98" font-size="4.62">2</tspan><tspan dy="-1.98"></tspan></text>
<text x="564.20" y="338.30" font-size="6.60" text-anchor="start" fill="#8080f0" stroke="#8080f0" stroke-width="0.18">+E<tspan dy="1.98" font-size="4.62">2</tspan><tspan dy="-1.98"></tspan></text>
<line x1="473.40" y1="353.40" x2="473.40" y2="378.40" stroke="#333" stroke-width="0.90"/>
<line x1="471.40" y1="356.40" x2="473.40" y2="356.40" stroke="#333" stroke-width="0.80"/>
<line x1="471.40" y1="378.40" x2="473.40" y2="378.40" stroke="#333" stroke-width="0.80"/>
<text x="470.80" y="358.70" font-size="6.60" text-anchor="end" fill="#1e1e1e" stroke="#1e1e1e" stroke-width="0.18">17</text>
<text x="470.80" y="380.70" font-size="6.60" text-anchor="end" fill="#1e1e1e" stroke="#1e1e1e" stroke-width="0.18">0</text>
<text x="434.20" y="369.40" font-size="6.60" text-anchor="start" fill="#1e1e1e" stroke="#1e1e1e" stroke-width="0.18">KDM4C</text>
<path d="M474 378.40 L474 375.36 L475 375.36 L475 378.40 L476 378.40 L476 378.04 L477 378.04 L477 376.92 L478 376.92 L478 377.26 L479 377.26 L479 377.29 L480 377.29 L480 376.34 L481 376.34 L481 374.73 L482 374.73 L482 377.14 L483 377.14 L483 375.88 L484 375.88 L484 377.97 L485 377.97 L485 378.31 L486 378.31 L486 377.13 L487 377.13 L487 376.61 L488 376.61 L488 377.17 L489 377.17 L489 378.33 L490 378.33 L490 377.62 L491 377.62 L491 378.08 L492 378.08 L492 378.40 L493 378.40 L493 378.03 L494 378.03 L494 376.24 L495 376.24 L495 377.81 L496 377.81 L496 377.64 L497 377.64 L497 377.34 L498 377.34 L498 377.30 L499 377.30 L499 377.87 L500 377.87 L500 377.24 L501 377.24 L501 375.91 L502 375.91 L502 378.33 L503 378.33 L503 377.26 L504 377.26 L504 376.89 L505 376.89 L505 378.06 L506 378.06 L506 378.40 L507 378.40 L507 377.98 L508 377.98 L508 376.01 L509 376.01 L509 375.87 L510 375.87 L510 377.67 L511 377.67 L511 377.45 L512 377.45 L512 378.14 L513 378.14 L513 376.87 L514 376.87 L514 377.17 L515 377.17 L515 376.90 L516 376.90 L516 376.90 L517 376.90 L517 376.90 L518 376.90 L518 376.29 L519 376.29 L519 376.90 L520 376.90 L520 376.90 L521 376.90 L521 376.90 L522 376.90 L522 375.92 L523 375.92 L523 377.15 L524 377.15 L524 377.45 L525 377.45 L525 376.50 L526 376.50 L526 377.70 L527 377.70 L527 378.40 L528 378.40 L528 375.51 L529 375.51 L529 376.12 L530 376.12 L530 378.36 L531 378.36 L531 378.40 L532 378.40 L532 378.40 L533 378.40 L533 378.40 L534 378.40 L534 378.40 L535 378.40 L535 378.27 L536 378.27 L536 377.48 L537 377.48 L537 377.26 L538 377.26 L538 375.13 L539 375.13 L539 376.93 L540 376.93 L540 378.40 L541 378.40 L541 378.40 L542 378.40 L542 376.87 L543 376.87 L543 375.59 L544 375.59 L544 377.02 L545 377.02 L545 377.16 L546 377.16 L546 376.92 L547 376.92 L547 378.40 L548 378.40 L548 378.40 L549 378.40 L549 378.40 L550 378.40 L550 378.40 L551 378.40 L551 378.40 L552 378.40 L552 378.40 L553 378.40 L553 378.40 L554 378.40 L554 378.40 L555 378.40 L555 378.40 L556 378.40 L556 378.40 L557 378.40 L557 378.40 L558 378.40 L558 377.92 L559 377.92 L559 376.04 L560 376.04 L560 376.79 L561 376.79 L561 378.19 L562 378.19 L562 378.40 L563 378.40 L563 378.40 Z" fill="#ff3a3a" opacity="0.62"/>
<path d="M474 378.40 L474 377.31 L475 377.31 L475 378.28 L476 378.28 L476 378.40 L477 378.40 L477 378.40 L478 378.40 L478 377.97 L479 377.97 L479 376.69 L480 376.69 L480 377.36 L481 377.36 L481 378.12 L482 378.12 L482 376.61 L483 376.61 L483 376.76 L484 376.76 L484 378.27 L485 378.27 L485 377.87 L486 377.87 L486 376.34 L487 376.34 L487 378.19 L488 378.19 L488 376.55 L489 376.55 L489 377.93 L490 377.93 L490 378.40 L491 378.40 L491 377.59 L492 377.59 L492 376.63 L493 376.63 L493 377.66 L494 377.66 L494 377.71 L495 377.71 L495 377.78 L496 377.78 L496 377.90 L497 377.90 L497 377.37 L498 377.37 L498 377.81 L499 377.81 L499 377.75 L500 377.75 L500 377.44 L501 377.44 L501 378.21 L502 378.21 L502 378.40 L503 378.40 L503 378.00 L504 378.00 L504 377.75 L505 377.75 L505 377.76 L506 377.76 L506 376.61 L507 376.61 L507 376.98 L508 376.98 L508 378.26 L509 378.26 L509 377.99 L510 377.99 L510 377.14 L511 377.14 L511 378.15 L512 378.15 L512 378.40 L513 378.40 L513 375.94 L514 375.94 L514 375.40 L515 375.40 L515 370.40 L516 370.40 L516 363.40 L517 363.40 L517 359.40 L518 359.40 L518 359.10 L519 359.10 L519 359.90 L520 359.90 L520 361.40 L521 361.40 L521 369.40 L522 369.40 L522 375.40 L523 375.40 L523 377.47 L524 377.47 L524 377.24 L525 377.24 L525 378.12 L526 378.12 L526 378.40 L527 378.40 L527 378.40 L528 378.40 L528 377.69 L529 377.69 L529 376.68 L530 376.68 L530 375.61 L531 375.61 L531 377.25 L532 377.25 L532 377.88 L533 377.88 L533 376.87 L534 376.87 L534 378.32 L535 378.32 L535 378.40 L536 378.40 L536 378.35 L537 378.35 L537 377.17 L538 377.17 L538 377.46 L539 377.46 L539 377.29 L540 377.29 L540 377.75 L541 377.75 L541 378.30 L542 378.30 L542 378.40 L543 378.40 L543 378.40 L544 378.40 L544 378.32 L545 378.32 L545 377.42 L546 377.42 L546 376.86 L547 376.86 L547 378.11 L548 378.11 L548 378.40 L549 378.40 L549 378.40 L550 378.40 L550 378.40 L551 378.40 L551 378.40 L552 378.40 L552 378.40 L553 378.40 L553 378.40 L554 378.40 L554 378.00 L555 378.00 L555 377.13 L556 377.13 L556 377.96 L557 377.96 L557 377.86 L558 377.86 L558 377.91 L559 377.91 L559 376.17 L560 376.17 L560 375.88 L561 375.88 L561 377.80 L562 377.80 L562 378.40 L563 378.40 L563 378.40 Z" fill="#3a3aff" opacity="0.55"/>
<line x1="473.40" y1="378.40" x2="563.50" y2="378.40" stroke="#7070c0" stroke-width="0.80"/>
<text x="564.20" y="363.20" font-size="6.60" text-anchor="start" fill="#f07a7a" stroke="#f07a7a" stroke-width="0.18">−E<tspan dy="1.98" font-size="4.62">2</tspan><tspan dy="-1.98"></tspan></text>
<text x="564.20" y="371.40" font-size="6.60" text-anchor="start" fill="#8080f0" stroke="#8080f0" stroke-width="0.18">+E<tspan dy="1.98" font-size="4.62">2</tspan><tspan dy="-1.98"></tspan></text>
<line x1="473.40" y1="385.50" x2="473.40" y2="409.00" stroke="#333" stroke-width="0.90"/>
<line x1="471.40" y1="386.00" x2="473.40" y2="386.00" stroke="#333" stroke-width="0.80"/>
<line x1="471.40" y1="409.00" x2="473.40" y2="409.00" stroke="#333" stroke-width="0.80"/>
<text x="470.80" y="388.30" font-size="6.60" text-anchor="end" fill="#1e1e1e" stroke="#1e1e1e" stroke-width="0.18">30</text>
<text x="470.80" y="411.30" font-size="6.60" text-anchor="end" fill="#1e1e1e" stroke="#1e1e1e" stroke-width="0.18">0</text>
<text x="434.20" y="400.10" font-size="6.60" text-anchor="start" fill="#1e1e1e" stroke="#1e1e1e" stroke-width="0.18">KDM4B</text>
<path d="M474 409.00 L474 409.00 L475 409.00 L475 408.82 L476 408.82 L476 407.76 L477 407.76 L477 408.10 L478 408.10 L478 406.87 L479 406.87 L479 407.04 L480 407.04 L480 409.00 L481 409.00 L481 409.00 L482 409.00 L482 409.00 L483 409.00 L483 407.20 L484 407.20 L484 408.44 L485 408.44 L485 407.43 L486 407.43 L486 409.00 L487 409.00 L487 409.00 L488 409.00 L488 408.31 L489 408.31 L489 408.60 L490 408.60 L490 408.32 L491 408.32 L491 408.19 L492 408.19 L492 406.68 L493 406.68 L493 406.51 L494 406.51 L494 406.65 L495 406.65 L495 408.30 L496 408.30 L496 409.00 L497 409.00 L497 409.00 L498 409.00 L498 409.00 L499 409.00 L499 408.65 L500 408.65 L500 407.13 L501 407.13 L501 406.43 L502 406.43 L502 407.49 L503 407.49 L503 408.14 L504 408.14 L504 408.31 L505 408.31 L505 407.59 L506 407.59 L506 408.53 L507 408.53 L507 408.16 L508 408.16 L508 408.12 L509 408.12 L509 408.54 L510 408.54 L510 408.39 L511 408.39 L511 408.87 L512 408.87 L512 409.00 L513 409.00 L513 407.27 L514 407.27 L514 405.88 L515 405.88 L515 408.73 L516 408.73 L516 408.90 L517 408.90 L517 407.70 L518 407.70 L518 408.33 L519 408.33 L519 409.00 L520 409.00 L520 409.00 L521 409.00 L521 409.00 L522 409.00 L522 409.00 L523 409.00 L523 409.00 L524 409.00 L524 409.00 L525 409.00 L525 407.07 L526 407.07 L526 409.00 L527 409.00 L527 409.00 L528 409.00 L528 409.00 L529 409.00 L529 409.00 L530 409.00 L530 409.00 L531 409.00 L531 407.70 L532 407.70 L532 405.86 L533 405.86 L533 407.53 L534 407.53 L534 409.00 L535 409.00 L535 409.00 L536 409.00 L536 409.00 L537 409.00 L537 408.40 L538 408.40 L538 407.69 L539 407.69 L539 407.97 L540 407.97 L540 408.31 L541 408.31 L541 409.00 L542 409.00 L542 409.00 L543 409.00 L543 408.36 L544 408.36 L544 408.16 L545 408.16 L545 408.64 L546 408.64 L546 407.94 L547 407.94 L547 408.43 L548 408.43 L548 409.00 L549 409.00 L549 409.00 L550 409.00 L550 409.00 L551 409.00 L551 408.08 L552 408.08 L552 408.50 L553 408.50 L553 408.85 L554 408.85 L554 408.33 L555 408.33 L555 407.27 L556 407.27 L556 407.34 L557 407.34 L557 407.76 L558 407.76 L558 407.26 L559 407.26 L559 408.02 L560 408.02 L560 409.00 L561 409.00 L561 409.00 L562 409.00 L562 409.00 L563 409.00 L563 409.00 Z" fill="#ff3a3a" opacity="0.62"/>
<path d="M474 409.00 L474 408.42 L475 408.42 L475 408.41 L476 408.41 L476 407.35 L477 407.35 L477 406.23 L478 406.23 L478 408.61 L479 408.61 L479 407.39 L480 407.39 L480 409.00 L481 409.00 L481 408.63 L482 408.63 L482 407.47 L483 407.47 L483 408.66 L484 408.66 L484 407.35 L485 407.35 L485 408.14 L486 408.14 L486 408.46 L487 408.46 L487 407.69 L488 407.69 L488 408.47 L489 408.47 L489 409.00 L490 409.00 L490 408.63 L491 408.63 L491 408.25 L492 408.25 L492 407.71 L493 407.71 L493 406.94 L494 406.94 L494 407.20 L495 407.20 L495 408.47 L496 408.47 L496 407.97 L497 407.97 L497 408.74 L498 408.74 L498 409.00 L499 409.00 L499 409.00 L500 409.00 L500 408.59 L501 408.59 L501 407.31 L502 407.31 L502 408.43 L503 408.43 L503 409.00 L504 409.00 L504 409.00 L505 409.00 L505 408.60 L506 408.60 L506 406.26 L507 406.26 L507 407.97 L508 407.97 L508 408.09 L509 408.09 L509 407.79 L510 407.79 L510 407.51 L511 407.51 L511 406.93 L512 406.93 L512 408.40 L513 408.40 L513 409.00 L514 409.00 L514 405.73 L515 405.73 L515 406.98 L516 406.98 L516 406.00 L517 406.00 L517 403.00 L518 403.00 L518 398.00 L519 398.00 L519 394.00 L520 394.00 L520 392.70 L521 392.70 L521 396.00 L522 396.00 L522 402.00 L523 402.00 L523 406.00 L524 406.00 L524 409.00 L525 409.00 L525 409.00 L526 409.00 L526 409.00 L527 409.00 L527 409.00 L528 409.00 L528 409.00 L529 409.00 L529 407.25 L530 407.25 L530 405.66 L531 405.66 L531 407.76 L532 407.76 L532 409.00 L533 409.00 L533 409.00 L534 409.00 L534 409.00 L535 409.00 L535 409.00 L536 409.00 L536 409.00 L537 409.00 L537 407.24 L538 407.24 L538 406.70 L539 406.70 L539 408.25 L540 408.25 L540 408.45 L541 408.45 L541 409.00 L542 409.00 L542 409.00 L543 409.00 L543 408.30 L544 408.30 L544 406.71 L545 406.71 L545 407.27 L546 407.27 L546 407.76 L547 407.76 L547 408.23 L548 408.23 L548 408.24 L549 408.24 L549 408.08 L550 408.08 L550 407.31 L551 407.31 L551 408.26 L552 408.26 L552 408.50 L553 408.50 L553 408.98 L554 408.98 L554 408.71 L555 408.71 L555 407.13 L556 407.13 L556 408.42 L557 408.42 L557 407.70 L558 407.70 L558 408.73 L559 408.73 L559 407.72 L560 407.72 L560 408.49 L561 408.49 L561 409.00 L562 409.00 L562 409.00 L563 409.00 L563 409.00 Z" fill="#3a3aff" opacity="0.55"/>
<line x1="473.40" y1="409.00" x2="563.50" y2="409.00" stroke="#7070c0" stroke-width="0.80"/>
<text x="564.20" y="394.30" font-size="6.60" text-anchor="start" fill="#f07a7a" stroke="#f07a7a" stroke-width="0.18">−E<tspan dy="1.98" font-size="4.62">2</tspan><tspan dy="-1.98"></tspan></text>
<text x="564.20" y="402.50" font-size="6.60" text-anchor="start" fill="#8080f0" stroke="#8080f0" stroke-width="0.18">+E<tspan dy="1.98" font-size="4.62">2</tspan><tspan dy="-1.98"></tspan></text>
<line x1="481.40" y1="418.80" x2="518.70" y2="418.80" stroke="#8a96e0" stroke-width="0.80"/>
<rect x="480.60" y="417.5" width="1.6" height="2.6" fill="#1f2e8a"/>
<rect x="489.70" y="417.5" width="1.6" height="2.6" fill="#1f2e8a"/>
<rect x="517.40" y="417.5" width="1.6" height="2.6" fill="#1f2e8a"/>
<text x="522.00" y="421.20" font-size="6.60" text-anchor="start" fill="#3a6af0" stroke="#3a6af0" stroke-width="0.18"><tspan font-style="italic">TFF1</tspan></text>
<polyline points="535.00,412.70 542.40,412.70 542.40,416.30" stroke="#000" stroke-width="0.90" fill="none"/>
<polygon points="530.3,412.7 536,410.7 536,414.7" fill="#000"/>
</svg></body></html>
